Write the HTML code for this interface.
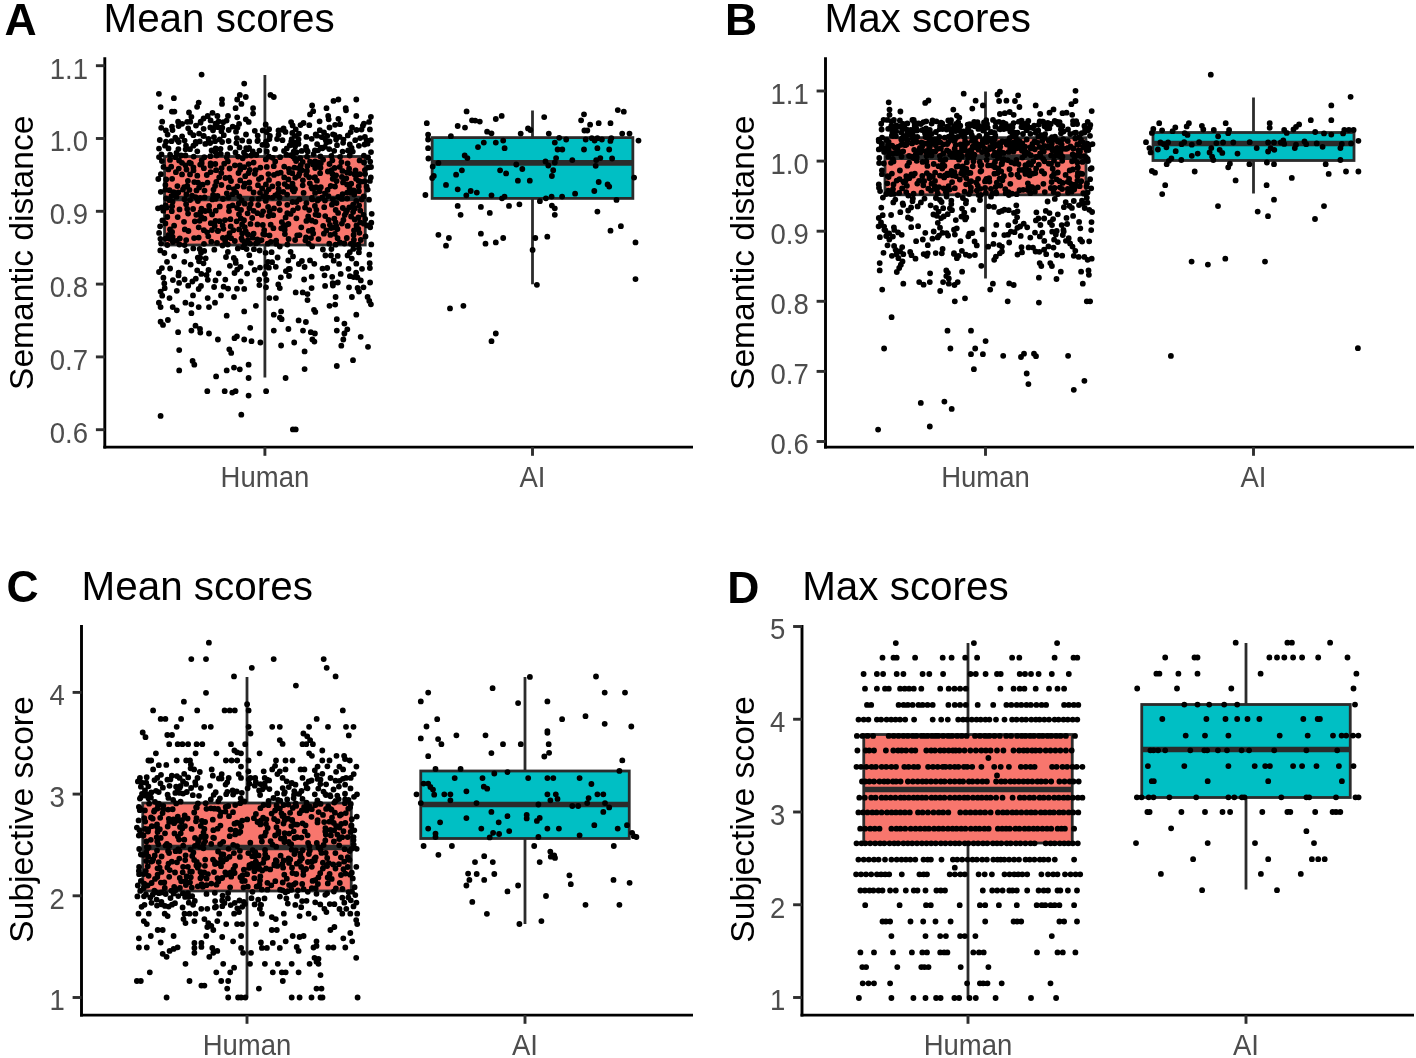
<!DOCTYPE html>
<html><head><meta charset="utf-8"><title>Figure</title>
<style>html,body{margin:0;padding:0;background:#fff;overflow:hidden}svg{display:block;font-family:"Liberation Sans", Arial, sans-serif}</style>
</head><body>
<svg width="1416" height="1058" viewBox="0 0 1416 1058">
<rect width="1416" height="1058" fill="#fff"/>
<line x1="264.90" x2="264.90" y1="75.00" y2="156.50" stroke="#2b2b2b" stroke-width="2.8"/>
<line x1="264.90" x2="264.90" y1="245.00" y2="377.50" stroke="#2b2b2b" stroke-width="2.8"/>
<rect x="164.55" y="156.50" width="200.70" height="88.50" fill="#F8766D" stroke="#2b2b2b" stroke-width="2.8"/>
<line x1="164.55" x2="365.25" y1="198.50" y2="198.50" stroke="#2b2b2b" stroke-width="5.6"/>
<line x1="532.50" x2="532.50" y1="110.50" y2="137.60" stroke="#2b2b2b" stroke-width="2.8"/>
<line x1="532.50" x2="532.50" y1="198.40" y2="284.30" stroke="#2b2b2b" stroke-width="2.8"/>
<rect x="432.15" y="137.60" width="200.70" height="60.80" fill="#00BFC4" stroke="#2b2b2b" stroke-width="2.8"/>
<line x1="432.15" x2="632.85" y1="162.90" y2="162.90" stroke="#2b2b2b" stroke-width="5.6"/>
<path d="M201.6 74.6h0M244.2 83.6h0M158.9 93.8h0M173.9 98.2h0M270.5 94.9h0M273.8 97.0h0M239.8 94.9h0M245.8 97.0h0M237.2 99.5h0M241.4 103.9h0M222.0 99.5h0M222.0 103.9h0M198.7 102.6h0M197.1 106.8h0M160.6 107.1h0M235.6 108.2h0M253.1 108.2h0M253.1 113.6h0M171.9 111.6h0M174.4 111.6h0M189.0 112.5h0M312.1 105.5h0M313.2 111.2h0M310.0 114.4h0M333.5 100.9h0M338.4 99.5h0M356.3 99.5h0M326.5 108.2h0M345.7 108.2h0M346.0 110.3h0M212.5 112.8h0M356.3 116.0h0M370.9 116.8h0M328.2 116.0h0M328.7 119.3h0M338.4 118.8h0M191.4 116.8h0M190.3 121.7h0M203.6 118.5h0M207.7 116.0h0M217.4 116.0h0M228.0 116.0h0M237.2 117.3h0M245.8 119.3h0M178.1 121.7h0M162.2 121.7h0M160.6 291.6h0M162.2 295.7h0M176.8 290.8h0M193.0 295.4h0M169.5 298.1h0M207.7 298.1h0M221.0 295.4h0M234.0 297.0h0M269.4 298.1h0M275.9 298.1h0M295.7 292.4h0M302.7 292.4h0M307.5 294.1h0M307.5 300.1h0M335.6 297.0h0M351.9 297.0h0M359.0 291.6h0M367.6 297.0h0M369.3 301.0h0M370.9 304.3h0M158.9 302.7h0M160.6 307.1h0M185.4 302.7h0M191.4 304.3h0M198.7 307.1h0M209.0 307.1h0M215.0 302.7h0M255.9 305.8h0M329.5 305.8h0M335.2 304.6h0M172.7 307.1h0M176.8 310.3h0M191.4 313.2h0M226.7 315.7h0M244.2 311.4h0M281.1 311.4h0M273.8 314.7h0M279.9 317.6h0M281.6 319.2h0M314.0 309.8h0M315.3 311.9h0M356.3 314.7h0M160.6 321.7h0M163.0 324.9h0M167.9 320.0h0M298.6 320.4h0M305.9 322.0h0M336.8 319.2h0M344.4 323.6h0M195.5 325.7h0M200.0 329.0h0M200.3 332.6h0M191.4 330.6h0M178.1 332.2h0M209.0 333.5h0M250.2 327.8h0M273.8 330.6h0M288.4 329.0h0M303.0 330.6h0M310.8 332.2h0M314.9 333.5h0M336.8 330.6h0M347.3 329.3h0M344.4 333.5h0M217.9 339.5h0M234.5 338.2h0M236.9 336.3h0M244.2 339.5h0M251.5 341.2h0M260.4 342.5h0M294.2 342.5h0M312.4 339.5h0M314.4 341.6h0M343.3 339.5h0M360.7 336.8h0M281.1 345.5h0M341.3 345.7h0M368.0 346.8h0M179.2 350.1h0M229.3 349.3h0M231.2 352.9h0M304.6 351.4h0M192.6 361.0h0M194.3 364.7h0M248.6 364.7h0M353.0 360.2h0M336.8 366.0h0M179.2 370.4h0M226.7 370.4h0M234.0 367.6h0M239.8 369.3h0M304.6 369.1h0M216.1 376.4h0M248.6 378.0h0M285.6 378.0h0M207.3 391.2h0M224.7 391.2h0M232.3 392.6h0M235.6 391.2h0M248.6 395.6h0M266.1 391.2h0M160.6 415.9h0M241.3 414.7h0M292.9 429.4h0M295.7 429.4h0M291.7 139.1h0M323.9 233.7h0M222.1 142.0h0M159.0 148.6h0M328.5 196.1h0M222.7 225.4h0M212.4 199.4h0M265.9 184.4h0M371.0 152.1h0M291.1 122.1h0M204.0 243.8h0M289.0 276.0h0M165.5 189.7h0M257.7 135.6h0M292.6 189.8h0M264.2 230.2h0M160.4 238.8h0M306.0 237.5h0M237.0 288.7h0M335.6 244.7h0M215.1 141.2h0M267.0 145.3h0M294.8 158.7h0M177.4 186.1h0M285.9 271.1h0M240.8 218.4h0M190.0 149.2h0M239.1 124.0h0M284.2 177.4h0M294.4 167.6h0M190.1 200.1h0M209.1 206.0h0M178.6 126.1h0M203.9 168.2h0M186.0 145.6h0M360.2 138.1h0M279.8 246.6h0M199.1 133.6h0M276.1 240.6h0M347.1 172.4h0M279.8 210.1h0M245.8 231.4h0M166.0 141.7h0M258.0 185.2h0M226.8 157.3h0M163.3 210.7h0M164.4 253.0h0M364.9 170.1h0M249.5 188.5h0M344.7 215.1h0M284.2 166.6h0M233.9 189.1h0M321.7 137.1h0M190.2 132.5h0M159.0 157.1h0M331.4 249.1h0M247.5 149.3h0M160.9 174.2h0M327.6 189.9h0M313.2 233.5h0M200.4 212.2h0M196.3 214.8h0M360.8 181.7h0M230.7 226.4h0M361.7 199.5h0M367.7 189.6h0M269.4 139.1h0M316.9 180.7h0M249.2 141.4h0M246.0 134.5h0M172.6 201.7h0M269.1 129.2h0M211.6 150.5h0M302.7 162.0h0M292.6 125.4h0M229.1 206.7h0M201.3 273.9h0M203.4 135.9h0M337.7 255.9h0M287.1 194.6h0M363.7 196.4h0M292.3 173.2h0M197.2 270.3h0M246.0 155.7h0M332.4 160.3h0M182.1 136.3h0M329.6 141.5h0M269.9 135.9h0M164.3 283.5h0M212.0 230.0h0M198.0 182.6h0M166.2 179.4h0M193.4 167.4h0M162.4 220.4h0M358.7 186.5h0M331.6 170.1h0M288.6 239.0h0M280.8 277.3h0M329.5 127.5h0M340.7 273.9h0M230.4 219.2h0M182.0 174.4h0M328.6 219.9h0M342.6 151.6h0M185.5 155.4h0M346.8 238.0h0M280.7 172.7h0M288.3 260.5h0M299.4 173.7h0M334.2 150.8h0M227.9 161.4h0M343.5 139.6h0M192.4 281.5h0M297.2 235.3h0M278.5 130.4h0M239.1 229.4h0M255.6 170.2h0M179.5 209.4h0M186.5 169.5h0M335.7 210.0h0M237.4 186.3h0M203.9 230.2h0M228.5 197.5h0M175.3 157.2h0M281.8 222.1h0M186.4 250.8h0M175.3 137.6h0M215.5 221.0h0M336.1 175.3h0M197.9 201.0h0M347.1 210.3h0M310.0 260.4h0M313.6 154.1h0M334.6 167.9h0M237.2 269.6h0M268.9 156.5h0M198.7 227.3h0M272.6 157.8h0M349.8 252.2h0M197.3 151.3h0M358.9 145.8h0M324.2 207.2h0M295.1 240.0h0M320.5 156.5h0M312.3 199.4h0M238.8 203.3h0M165.0 145.7h0M274.0 208.4h0M275.2 161.4h0M239.5 147.4h0M354.7 208.4h0M189.5 162.6h0M334.5 134.9h0M184.3 261.8h0M369.3 254.7h0M318.5 239.1h0M353.6 234.9h0M322.5 268.6h0M259.2 279.6h0M225.0 220.1h0M311.9 197.9h0M370.9 140.1h0M354.0 230.3h0M242.2 233.4h0M184.6 279.5h0M265.6 252.9h0M195.6 143.7h0M261.5 240.1h0M301.3 227.3h0M270.7 224.7h0M268.4 174.1h0M182.1 123.8h0M359.4 232.8h0M365.5 236.4h0M266.3 192.1h0M353.7 277.1h0M225.4 178.0h0M172.1 231.9h0M257.4 141.1h0M320.8 147.6h0M320.8 163.3h0M339.8 166.9h0M315.4 221.8h0M193.7 156.6h0M193.4 135.2h0M285.6 217.4h0M358.4 244.6h0M268.0 261.8h0M364.5 181.4h0M329.9 224.8h0M329.5 164.0h0M295.7 129.3h0M250.7 204.1h0M306.0 146.8h0M229.6 168.5h0M202.6 184.7h0M161.2 127.8h0M258.2 205.0h0M312.1 188.5h0M314.3 263.8h0M278.3 183.8h0M357.4 277.4h0M254.8 173.8h0M275.8 266.8h0M284.9 234.1h0M199.7 141.4h0M200.2 198.0h0M244.8 183.7h0M242.7 158.3h0M239.3 196.3h0M319.6 191.2h0M230.2 147.9h0M253.6 162.6h0M302.9 180.3h0M247.9 240.2h0M371.7 213.8h0M253.6 210.8h0M282.3 129.8h0M347.2 192.6h0M304.6 267.0h0M343.4 220.0h0M322.3 197.5h0M170.0 159.9h0M332.9 199.4h0M171.2 166.7h0M210.6 172.1h0M238.5 173.0h0M213.1 194.9h0M363.8 223.7h0M223.4 228.8h0M199.7 249.0h0M355.5 170.3h0M290.8 155.2h0M318.5 215.2h0M218.5 127.2h0M259.4 285.1h0M255.9 243.4h0M215.6 152.2h0M197.3 175.7h0M244.8 203.7h0M349.1 168.7h0M168.4 169.4h0M286.4 154.7h0M203.6 128.8h0M347.6 255.4h0M225.3 279.6h0M288.9 169.0h0M161.9 161.1h0M306.4 203.1h0M340.1 156.8h0M229.9 265.8h0M186.2 240.1h0M222.9 199.0h0M356.5 225.4h0M244.2 288.9h0M326.3 230.5h0M215.3 164.0h0M185.6 149.3h0M183.0 189.5h0M165.4 184.9h0M339.1 263.9h0M216.6 155.6h0M320.1 173.2h0M316.4 209.8h0M313.1 164.6h0M240.8 281.5h0M364.0 162.5h0M201.7 160.2h0M217.5 195.9h0M341.9 198.9h0M219.5 221.2h0M216.3 181.8h0M266.3 266.5h0M184.6 140.6h0M259.4 150.6h0M172.1 178.8h0M343.1 142.8h0M269.5 211.2h0M365.2 218.9h0M166.8 207.6h0M190.7 264.6h0M296.4 218.3h0M280.1 157.2h0M284.0 150.9h0M314.9 205.9h0M215.7 210.7h0M273.8 166.2h0M277.6 257.5h0M333.0 134.3h0M211.3 241.7h0M339.6 136.9h0M167.3 217.0h0M172.9 242.1h0M262.1 188.4h0M317.5 200.5h0M188.1 213.6h0M368.1 157.4h0M325.1 285.9h0M344.4 243.5h0M193.3 248.4h0M218.8 273.3h0M204.2 250.9h0M257.4 213.2h0M283.5 225.0h0M347.8 135.4h0M259.6 250.5h0M351.8 258.6h0M177.7 217.1h0M288.8 268.8h0M279.6 197.4h0M371.3 244.4h0M331.9 204.7h0M325.6 139.7h0M370.2 227.3h0M254.8 130.8h0M360.3 210.6h0M359.1 205.5h0M238.1 156.6h0M258.7 198.9h0M301.7 150.9h0M207.1 232.3h0M197.8 257.6h0M307.1 156.7h0M221.3 173.1h0M212.1 214.5h0M288.4 179.4h0M190.9 163.5h0M200.7 121.6h0M219.2 177.3h0M369.9 129.4h0M308.2 216.4h0M228.1 288.6h0M165.4 184.9h0M201.2 216.8h0M172.9 280.1h0M356.3 200.9h0M201.7 163.2h0M210.3 127.4h0M350.0 173.1h0M179.4 244.5h0M351.1 216.5h0M302.7 185.3h0M295.0 189.1h0M348.5 268.8h0M185.5 165.3h0M195.8 278.7h0M340.1 124.2h0M210.1 143.0h0M244.0 220.2h0M266.0 287.3h0M252.6 237.7h0M358.9 191.2h0M178.5 275.4h0M369.9 180.9h0M169.5 190.2h0M265.8 200.9h0M361.5 129.6h0M184.6 245.1h0M332.9 285.5h0M366.6 186.4h0M249.7 169.8h0M170.0 229.4h0M352.0 127.5h0M263.4 196.5h0M341.9 223.6h0M229.4 177.7h0M356.1 272.7h0M330.7 186.0h0M239.0 214.2h0M178.8 168.6h0M363.9 123.6h0M348.2 150.4h0M196.0 125.6h0M188.2 285.7h0M214.3 249.7h0M219.8 206.5h0M311.7 220.5h0M349.3 207.3h0M266.0 141.6h0M301.9 261.0h0M187.2 121.8h0M222.3 127.7h0M161.1 243.6h0M203.5 263.3h0M258.9 179.1h0M226.0 257.0h0M187.3 186.0h0M292.6 202.0h0M342.8 208.0h0M370.2 161.6h0M257.4 224.4h0M354.7 219.5h0M360.8 280.4h0M370.8 177.4h0M173.7 192.1h0M236.6 221.3h0M286.8 148.4h0M358.4 217.5h0M279.8 288.1h0M237.5 127.4h0M220.8 153.9h0M219.8 139.4h0M189.4 189.9h0M221.4 185.0h0M317.1 144.1h0M256.3 155.0h0M178.7 142.0h0M282.5 140.2h0M326.4 142.6h0M311.0 238.1h0M292.3 132.9h0M176.5 196.9h0M346.3 178.3h0M169.3 200.2h0M240.2 180.4h0M245.2 176.2h0M347.6 163.5h0M335.6 222.4h0M176.5 152.9h0M172.0 126.6h0M294.9 135.9h0M329.3 243.7h0M260.0 192.8h0M369.7 263.2h0M356.3 263.7h0M358.3 228.8h0M158.0 208.3h0M363.9 155.7h0M338.1 212.9h0M179.1 160.6h0M187.2 208.9h0M353.1 212.0h0M227.9 251.9h0M353.9 239.8h0M159.8 140.0h0M167.0 261.8h0M264.9 274.0h0M265.8 159.4h0M298.6 175.8h0M208.5 139.0h0M184.2 187.2h0M315.5 214.6h0M309.3 125.2h0M161.5 154.4h0M195.6 197.2h0M305.0 207.6h0M236.1 192.6h0M218.1 231.0h0M337.0 145.2h0M293.8 142.4h0M266.8 166.9h0M298.8 264.0h0M253.6 233.7h0M235.8 262.9h0M274.0 174.9h0M355.2 140.2h0M170.1 154.7h0M226.8 193.3h0M278.3 284.4h0M264.6 234.5h0M240.5 266.9h0M298.5 139.5h0M233.8 258.0h0M290.6 251.8h0M235.5 152.4h0M187.9 180.8h0M250.5 223.9h0M220.5 148.8h0M205.2 211.0h0M252.8 151.5h0M257.3 239.4h0M329.2 149.1h0M221.6 168.1h0M268.6 216.1h0M227.8 244.5h0M263.1 211.3h0M303.5 123.0h0M204.5 190.6h0M266.8 151.5h0M199.6 220.8h0M223.2 122.2h0M229.6 233.1h0M359.0 248.5h0M364.6 144.5h0M296.4 202.1h0M200.1 257.7h0M232.6 205.3h0M312.2 246.4h0M276.4 243.9h0M325.0 193.3h0M272.5 197.6h0M179.8 238.4h0M241.6 200.1h0M174.1 225.7h0M260.4 167.6h0M296.1 161.0h0M319.6 121.3h0M304.1 279.5h0M198.7 289.0h0M369.9 268.1h0M172.1 206.2h0M311.4 187.0h0M208.5 270.0h0M198.7 237.6h0M332.7 283.2h0M215.1 185.9h0M205.3 143.9h0M334.3 218.6h0M298.5 143.9h0M338.2 197.0h0M193.1 209.0h0M215.7 210.7h0M336.2 225.7h0M159.1 232.9h0M349.8 144.4h0M292.5 183.7h0M267.7 243.7h0M295.1 146.4h0M165.6 238.6h0M273.2 215.2h0M210.6 163.4h0M315.1 161.4h0M172.5 130.1h0M268.7 189.3h0M325.0 200.6h0M166.1 198.3h0M201.0 286.0h0M234.5 273.0h0M350.7 132.1h0M320.5 167.8h0M337.8 282.5h0M206.6 275.0h0M337.6 238.2h0M308.6 243.6h0M337.4 229.0h0M283.3 191.9h0M244.7 243.7h0M325.4 255.5h0M209.3 210.6h0M172.6 236.8h0M177.3 139.9h0M242.2 140.5h0M207.8 279.8h0M254.6 269.9h0M363.5 287.3h0M227.5 237.1h0M160.8 191.8h0M290.6 213.9h0M207.5 182.6h0M223.8 135.2h0M231.1 238.2h0M204.6 197.5h0M333.7 260.7h0M284.7 184.1h0M306.4 220.9h0M234.9 165.3h0M262.8 225.0h0M232.7 126.6h0M231.0 181.0h0M360.2 222.4h0M331.0 255.5h0M314.9 150.4h0M367.1 225.4h0M269.5 235.4h0M210.8 223.2h0M336.1 139.4h0M228.8 187.4h0M287.6 186.7h0M165.9 130.5h0M271.6 252.2h0M335.0 186.5h0M168.5 148.4h0M306.4 136.9h0M181.1 155.5h0M249.3 182.4h0M277.1 139.0h0M210.4 156.2h0M332.5 173.9h0M316.9 135.7h0M295.2 177.7h0M351.6 147.8h0M315.7 134.3h0M165.4 223.4h0M262.4 144.8h0M215.7 148.3h0M171.5 195.8h0M306.9 171.0h0M366.6 140.5h0M213.0 130.3h0M359.6 160.4h0M278.6 188.8h0M293.7 151.6h0M356.1 178.8h0M275.0 149.0h0M287.3 213.2h0M186.4 194.5h0M244.0 152.5h0M161.9 268.1h0M315.2 168.0h0M249.3 255.2h0M315.0 177.1h0M200.2 164.6h0M215.6 198.9h0M237.2 208.0h0M291.2 141.6h0M324.5 275.3h0M265.7 124.5h0M293.9 191.4h0M336.6 181.0h0M299.5 235.1h0M176.8 240.8h0M341.4 162.1h0M318.4 199.5h0M293.1 210.4h0M190.0 174.4h0M261.7 214.9h0M281.2 228.3h0M188.4 231.0h0M363.5 214.8h0M235.5 260.4h0M236.0 131.7h0M221.4 131.3h0M354.6 244.6h0M236.4 143.1h0M350.8 243.8h0M323.2 225.8h0M217.8 231.0h0M227.4 154.4h0M261.2 177.7h0M339.9 242.3h0M233.3 230.2h0M315.1 192.9h0M370.1 282.5h0M300.2 158.2h0M318.0 162.5h0M214.1 287.0h0M272.1 262.2h0M178.3 192.5h0M248.6 173.1h0M205.7 258.3h0M333.7 227.7h0M257.9 242.3h0M354.7 174.4h0M246.6 249.1h0M320.8 187.2h0M289.9 269.0h0M324.8 146.8h0M289.7 145.4h0M298.9 133.7h0M349.9 276.2h0M195.7 142.0h0M253.9 249.2h0M215.5 123.6h0M327.2 268.0h0M309.2 210.1h0M369.0 199.7h0M324.0 132.5h0M371.3 222.7h0M297.9 208.0h0M285.5 131.9h0M213.5 189.6h0M192.1 195.6h0M307.7 151.5h0M330.4 234.9h0M270.9 241.8h0M317.3 165.2h0M354.2 194.6h0M215.5 280.4h0M325.2 216.1h0M312.4 229.6h0M171.5 141.2h0M309.1 177.2h0M247.6 213.3h0M266.5 280.0h0M242.1 224.4h0M341.9 177.0h0M332.7 178.8h0M248.7 121.9h0M293.0 156.6h0M182.0 162.8h0M359.8 174.2h0M308.8 230.8h0M300.8 165.2h0M273.4 228.2h0M269.0 179.9h0M347.2 198.6h0M188.2 128.3h0M206.8 175.0h0M247.9 234.5h0M225.2 241.3h0M288.4 224.0h0M267.7 197.3h0M278.5 134.8h0M350.4 192.8h0M216.1 170.2h0M199.0 261.3h0M331.4 155.9h0M362.0 268.8h0M360.8 240.0h0M266.7 132.0h0M257.8 140.4h0M167.3 245.0h0M289.3 172.2h0M210.6 120.4h0M228.7 130.0h0M263.2 234.1h0M204.4 218.7h0M251.9 199.1h0M275.2 195.3h0M215.0 127.2h0M229.0 211.1h0M244.7 227.2h0M364.9 136.9h0M268.9 267.7h0M184.0 221.8h0M224.2 163.7h0M174.1 256.3h0M298.4 168.1h0M310.0 161.6h0M199.1 187.5h0M299.3 199.4h0M353.1 204.6h0M336.5 203.1h0M250.2 243.6h0M335.1 124.8h0M178.7 272.6h0M222.9 237.9h0M210.6 165.8h0M343.0 182.4h0M208.3 236.3h0M278.2 193.1h0M303.6 192.9h0M358.7 181.0h0M342.6 194.1h0M170.1 268.5h0M179.1 282.9h0M283.6 128.4h0M268.1 207.0h0M240.2 169.7h0M293.0 256.4h0M309.8 183.3h0M356.5 130.0h0M367.6 143.7h0M168.6 234.9h0M277.6 173.4h0M306.7 149.8h0M371.0 167.0h0M178.4 149.1h0M243.0 247.2h0M247.1 273.6h0M171.8 211.2h0M332.2 276.8h0M246.2 148.1h0M243.8 186.7h0M368.3 167.4h0M316.0 187.2h0M349.5 188.4h0M349.0 287.3h0M203.8 136.0h0M223.6 286.7h0M311.7 138.8h0M244.2 167.2h0M241.0 209.9h0M194.8 221.3h0M249.4 208.0h0M248.6 164.1h0M217.0 242.8h0M250.9 262.8h0M253.6 192.5h0M311.7 276.7h0M160.1 226.3h0M218.6 121.3h0M352.8 151.6h0M351.2 183.7h0M357.6 288.0h0M239.9 165.5h0M158.3 179.0h0M214.7 225.9h0M346.0 212.4h0M292.8 186.5h0M353.7 190.5h0M194.3 182.1h0M314.2 177.6h0M165.7 205.3h0M175.9 172.2h0M201.5 208.6h0M347.7 225.9h0M228.6 141.0h0M226.6 120.6h0M204.3 157.2h0M334.8 233.8h0M169.7 238.8h0M237.8 248.4h0M300.5 125.1h0M327.9 171.5h0M342.4 170.9h0M251.2 155.5h0M193.5 170.4h0M322.4 148.3h0M279.1 203.3h0M160.3 250.4h0M234.8 241.0h0M301.9 170.2h0M196.5 190.4h0M260.0 267.6h0M252.2 218.0h0M164.7 288.2h0M311.6 288.1h0M323.1 159.7h0M186.1 204.2h0M262.7 130.4h0M249.1 147.8h0M242.2 240.1h0M347.1 184.5h0M193.4 145.7h0M322.9 249.5h0M319.8 130.2h0M327.3 135.8h0M305.4 240.3h0M236.9 138.1h0M369.1 121.9h0M365.1 173.9h0M163.4 277.7h0M362.9 125.7h0M201.0 252.7h0M331.1 228.0h0M318.0 150.3h0M307.4 166.0h0M306.3 174.8h0M214.0 137.1h0M167.6 134.6h0M161.8 207.4h0M353.3 248.9h0M232.6 194.2h0M349.7 155.5h0M159.0 272.0h0M284.7 229.9h0M222.5 245.5h0M272.4 186.3h0M200.5 122.7h0M163.5 166.9h0M284.9 226.4h0M358.9 252.4h0M184.8 229.4h0M287.4 244.5h0M184.5 199.2h0M241.5 238.3h0M296.5 152.2h0M287.3 204.8h0M194.1 238.1h0M466.6 111.4h0M617.8 110.1h0M623.8 111.7h0M584.0 114.3h0M501.7 115.9h0M544.2 117.1h0M495.8 119.0h0M472.0 120.3h0M475.2 120.6h0M479.8 121.6h0M581.1 120.3h0M426.8 123.2h0M590.1 124.7h0M598.7 123.2h0M610.5 123.2h0M457.7 126.0h0M465.0 127.6h0M528.0 128.4h0M530.4 130.0h0M584.4 130.5h0M587.3 130.5h0M487.1 131.7h0M491.5 133.3h0M520.7 133.6h0M548.8 133.6h0M428.1 134.6h0M622.2 133.6h0M629.5 133.6h0M450.9 136.2h0M559.2 137.8h0M566.2 139.5h0M585.7 139.5h0M591.8 138.2h0M594.6 140.6h0M597.4 138.2h0M601.9 139.5h0M611.3 138.2h0M610.4 140.9h0M428.1 139.5h0M638.5 140.6h0M483.8 142.6h0M495.8 142.6h0M503.2 140.6h0M554.8 142.6h0M478.0 147.1h0M504.6 148.2h0M428.1 148.2h0M557.6 149.5h0M562.3 149.5h0M584.0 149.5h0M597.4 148.2h0M609.2 149.5h0M464.7 155.5h0M467.4 158.1h0M428.4 158.5h0M556.1 158.1h0M600.3 158.1h0M612.1 158.5h0M596.2 160.1h0M572.3 160.1h0M545.5 161.4h0M554.8 162.5h0M438.4 162.9h0M432.7 166.6h0M516.3 164.5h0M548.3 165.5h0M595.7 165.8h0M522.3 169.0h0M553.2 170.2h0M461.9 170.3h0M500.1 170.3h0M506.1 173.4h0M456.1 174.7h0M433.8 176.0h0M432.2 178.0h0M551.9 176.0h0M634.1 177.6h0M517.9 180.7h0M529.8 180.7h0M598.7 182.0h0M446.0 184.9h0M607.6 184.5h0M609.2 186.6h0M457.7 189.3h0M470.7 191.0h0M476.8 192.6h0M594.3 191.0h0M425.4 195.0h0M466.3 195.3h0M491.5 195.3h0M504.5 196.6h0M502.0 198.3h0M575.1 193.7h0M551.6 196.6h0M562.1 196.6h0M545.9 198.3h0M457.7 205.9h0M480.9 206.9h0M509.0 205.9h0M519.4 204.3h0M539.9 201.2h0M551.9 205.6h0M554.8 208.3h0M554.8 214.8h0M460.6 214.8h0M489.8 212.9h0M597.4 211.6h0M616.5 199.9h0M620.9 226.2h0M610.5 230.7h0M438.4 234.8h0M448.9 238.0h0M446.0 245.7h0M480.9 233.7h0M485.5 243.7h0M495.8 242.4h0M503.2 238.0h0M535.3 238.0h0M547.3 236.7h0M532.6 249.9h0M635.5 242.4h0M635.5 279.1h0M536.9 284.8h0M450.0 308.4h0M463.4 305.8h0M495.8 333.5h0M491.5 341.2h0" stroke="#000" stroke-width="5.84" stroke-linecap="round" fill="none"/>
<line x1="104.80" x2="104.80" y1="57.30" y2="448.55" stroke="#000" stroke-width="2.9"/>
<line x1="103.35" x2="693.00" y1="447.10" y2="447.10" stroke="#000" stroke-width="2.9"/>
<line x1="95.90" x2="104.80" y1="65.70" y2="65.70" stroke="#2e2e2e" stroke-width="2.9"/>
<text transform="translate(88.00,78.50) scale(1,1.05)" text-anchor="end" font-size="27.5" fill="#4D4D4D">1.1</text>
<line x1="95.90" x2="104.80" y1="138.50" y2="138.50" stroke="#2e2e2e" stroke-width="2.9"/>
<text transform="translate(88.00,151.30) scale(1,1.05)" text-anchor="end" font-size="27.5" fill="#4D4D4D">1.0</text>
<line x1="95.90" x2="104.80" y1="211.30" y2="211.30" stroke="#2e2e2e" stroke-width="2.9"/>
<text transform="translate(88.00,224.10) scale(1,1.05)" text-anchor="end" font-size="27.5" fill="#4D4D4D">0.9</text>
<line x1="95.90" x2="104.80" y1="284.10" y2="284.10" stroke="#2e2e2e" stroke-width="2.9"/>
<text transform="translate(88.00,296.90) scale(1,1.05)" text-anchor="end" font-size="27.5" fill="#4D4D4D">0.8</text>
<line x1="95.90" x2="104.80" y1="356.90" y2="356.90" stroke="#2e2e2e" stroke-width="2.9"/>
<text transform="translate(88.00,369.70) scale(1,1.05)" text-anchor="end" font-size="27.5" fill="#4D4D4D">0.7</text>
<line x1="95.90" x2="104.80" y1="429.70" y2="429.70" stroke="#2e2e2e" stroke-width="2.9"/>
<text transform="translate(88.00,442.50) scale(1,1.05)" text-anchor="end" font-size="27.5" fill="#4D4D4D">0.6</text>
<line x1="264.90" x2="264.90" y1="447.10" y2="455.80" stroke="#2e2e2e" stroke-width="2.9"/>
<text transform="translate(264.90,486.70) scale(1,1.04)" text-anchor="middle" font-size="27.5" fill="#4D4D4D">Human</text>
<line x1="532.50" x2="532.50" y1="447.10" y2="455.80" stroke="#2e2e2e" stroke-width="2.9"/>
<text transform="translate(532.50,486.70) scale(1,1.04)" text-anchor="middle" font-size="27.5" fill="#4D4D4D">AI</text>
<text transform="translate(33.10,252.80) rotate(-90)" text-anchor="middle" font-size="33.6" fill="#000">Semantic distance</text>
<text transform="translate(103.50,32.30)" text-anchor="start" font-size="40.4" fill="#000">Mean scores</text>
<text transform="translate(4.50,34.60)" text-anchor="start" font-size="44.5" fill="#000" font-weight="bold">A</text>
<line x1="985.50" x2="985.50" y1="91.50" y2="137.70" stroke="#2b2b2b" stroke-width="2.8"/>
<line x1="985.50" x2="985.50" y1="194.80" y2="278.50" stroke="#2b2b2b" stroke-width="2.8"/>
<rect x="885.00" y="137.70" width="201.00" height="57.10" fill="#F8766D" stroke="#2b2b2b" stroke-width="2.8"/>
<line x1="885.00" x2="1086.00" y1="157.10" y2="157.10" stroke="#2b2b2b" stroke-width="5.6"/>
<line x1="1253.50" x2="1253.50" y1="97.50" y2="132.50" stroke="#2b2b2b" stroke-width="2.8"/>
<line x1="1253.50" x2="1253.50" y1="160.50" y2="193.50" stroke="#2b2b2b" stroke-width="2.8"/>
<rect x="1153.00" y="132.50" width="201.00" height="28.00" fill="#00BFC4" stroke="#2b2b2b" stroke-width="2.8"/>
<line x1="1153.00" x2="1354.00" y1="143.50" y2="143.50" stroke="#2b2b2b" stroke-width="5.6"/>
<path d="M963.7 93.7h0M1075.5 90.8h0M997.5 94.5h0M999.9 91.7h0M1018.1 95.3h0M888.7 102.3h0M925.2 102.9h0M928.5 100.5h0M975.6 100.7h0M999.1 101.0h0M1006.4 100.7h0M1015.0 101.0h0M1071.4 104.2h0M1075.5 101.0h0M982.9 105.4h0M1035.7 105.4h0M1019.4 107.0h0M972.3 108.6h0M953.3 109.6h0M889.5 109.6h0M889.5 114.8h0M900.4 111.5h0M1091.7 111.1h0M1053.5 109.4h0M1049.5 112.7h0M1040.2 114.0h0M956.9 115.6h0M959.3 117.6h0M999.9 114.0h0M1004.8 113.2h0M1009.7 112.0h0M1013.7 114.8h0M1062.5 113.2h0M1066.5 112.7h0M1072.2 114.8h0M891.9 255.8h0M898.4 258.2h0M903.3 254.2h0M902.5 261.5h0M900.9 264.7h0M899.2 268.0h0M896.8 272.0h0M879.7 263.1h0M879.7 270.4h0M915.5 258.7h0M926.8 255.8h0M927.7 253.3h0M956.9 258.2h0M958.5 255.8h0M969.4 255.8h0M994.2 259.8h0M995.9 256.6h0M999.9 253.3h0M1001.9 251.4h0M1046.2 254.2h0M1073.8 255.8h0M1078.7 256.9h0M1084.4 256.9h0M1087.6 259.8h0M1091.7 258.7h0M1039.7 263.1h0M1041.3 266.0h0M1050.3 263.1h0M1051.9 266.0h0M981.3 265.8h0M930.1 273.3h0M946.3 270.4h0M948.0 272.8h0M946.3 276.1h0M948.8 278.5h0M962.1 271.7h0M1060.8 271.7h0M1081.1 271.7h0M1088.5 270.4h0M1088.9 274.8h0M1038.9 277.7h0M1056.5 279.0h0M903.3 283.7h0M919.2 282.1h0M923.6 284.7h0M929.8 282.1h0M943.1 282.1h0M948.8 283.7h0M954.5 285.0h0M957.7 282.1h0M992.9 283.7h0M990.2 289.6h0M1009.2 283.4h0M1013.7 285.0h0M1082.8 283.7h0M882.2 289.6h0M940.2 291.0h0M954.8 301.3h0M965.0 298.3h0M1007.7 301.3h0M1038.9 302.6h0M1086.8 301.3h0M1090.1 301.3h0M891.6 317.2h0M947.5 330.7h0M971.0 330.7h0M985.6 341.1h0M884.1 348.5h0M950.4 348.5h0M975.2 348.5h0M971.0 354.2h0M982.9 354.2h0M1003.2 355.8h0M1021.0 357.0h0M1024.0 353.7h0M1034.0 353.7h0M1036.0 356.2h0M1068.1 355.8h0M973.9 369.2h0M1026.7 373.5h0M1028.4 384.1h0M1084.4 380.8h0M1073.8 389.8h0M920.8 402.9h0M944.4 401.6h0M951.7 408.9h0M929.8 426.5h0M878.1 429.6h0M977.5 122.2h0M1011.3 147.0h0M948.3 120.5h0M917.5 151.3h0M1023.0 134.0h0M1052.7 168.7h0M936.4 121.3h0M996.8 182.6h0M907.9 134.5h0M1060.2 150.6h0M960.6 144.5h0M1088.4 150.0h0M1047.1 128.6h0M1040.6 156.3h0M916.5 142.0h0M1056.6 122.5h0M910.9 218.8h0M1014.7 132.7h0M894.7 147.6h0M895.9 136.0h0M942.8 164.4h0M906.3 176.1h0M906.9 185.8h0M1002.4 180.3h0M1021.4 127.1h0M1001.9 246.6h0M1084.1 193.7h0M952.5 153.5h0M1011.0 174.6h0M972.7 146.7h0M976.3 182.4h0M966.4 168.9h0M940.9 148.5h0M988.1 165.4h0M1030.4 133.8h0M1017.4 174.7h0M1079.1 221.9h0M1051.0 164.1h0M963.4 131.5h0M1018.8 121.7h0M1066.5 217.9h0M986.2 137.1h0M896.0 152.5h0M1091.2 188.3h0M903.3 181.6h0M952.1 182.1h0M970.9 132.2h0M989.2 149.3h0M901.7 234.8h0M1082.2 173.9h0M1020.1 226.5h0M893.5 161.4h0M905.6 180.7h0M945.4 159.5h0M945.0 175.5h0M982.5 142.9h0M887.3 119.9h0M970.7 125.5h0M879.9 237.2h0M899.6 126.3h0M966.6 131.2h0M1027.2 227.3h0M955.8 176.0h0M975.4 138.1h0M896.2 125.3h0M980.5 171.5h0M1027.9 183.3h0M1031.1 164.8h0M980.8 194.9h0M921.9 130.1h0M1001.9 164.0h0M1044.5 126.3h0M912.4 119.9h0M881.3 147.6h0M934.8 186.5h0M984.4 148.3h0M972.0 140.8h0M1082.0 200.7h0M929.2 147.9h0M966.3 178.1h0M986.5 142.0h0M1073.1 124.2h0M1054.0 174.0h0M1067.8 141.1h0M915.7 123.2h0M931.3 143.0h0M1027.2 126.6h0M1021.2 121.0h0M886.3 194.0h0M1001.6 163.7h0M921.6 150.0h0M964.6 137.4h0M978.4 128.9h0M924.1 181.2h0M954.4 172.1h0M916.7 157.2h0M902.3 129.6h0M996.3 224.9h0M948.6 186.1h0M911.8 156.7h0M917.6 206.4h0M1028.9 163.0h0M1022.4 157.6h0M986.4 178.8h0M969.7 156.6h0M951.7 132.7h0M931.1 190.7h0M952.1 135.8h0M1017.4 132.7h0M962.0 208.6h0M1008.5 192.1h0M957.2 152.3h0M1084.7 208.0h0M888.2 145.7h0M884.1 151.9h0M903.8 144.5h0M955.7 144.8h0M933.7 231.5h0M917.3 183.6h0M913.6 193.7h0M995.0 161.9h0M1055.2 155.5h0M994.0 141.1h0M1061.3 149.6h0M976.8 245.4h0M1008.0 234.7h0M994.0 206.9h0M1061.7 225.1h0M1019.7 141.5h0M937.3 149.0h0M881.7 143.6h0M893.7 193.9h0M978.5 149.7h0M1051.6 146.9h0M1068.7 238.2h0M891.9 135.5h0M1080.3 239.4h0M883.5 252.8h0M1002.0 210.9h0M998.7 144.2h0M881.6 129.5h0M932.5 151.7h0M879.1 163.1h0M935.1 172.6h0M913.2 175.6h0M1028.3 121.0h0M900.0 251.2h0M1067.8 188.9h0M901.1 144.8h0M1029.8 127.6h0M922.2 146.2h0M1080.3 228.3h0M961.2 173.3h0M937.6 139.9h0M1071.4 184.1h0M1075.3 138.5h0M1016.7 194.2h0M937.8 222.8h0M1070.3 134.0h0M896.9 153.2h0M1042.4 150.4h0M1081.0 139.9h0M899.9 170.5h0M1001.9 126.3h0M957.8 195.1h0M939.0 187.1h0M911.4 174.4h0M987.7 127.7h0M1082.9 203.8h0M1000.4 143.5h0M992.3 193.4h0M928.5 152.6h0M1003.9 176.2h0M1077.6 175.9h0M948.2 142.3h0M982.9 140.1h0M911.1 207.5h0M1036.1 168.4h0M1062.1 189.0h0M929.8 130.0h0M955.8 220.1h0M925.5 137.0h0M935.2 151.5h0M1057.2 147.8h0M1039.7 121.5h0M942.5 129.0h0M996.4 193.3h0M906.6 176.5h0M1043.8 151.4h0M1066.6 148.8h0M973.3 209.9h0M979.0 125.9h0M1003.6 159.1h0M1008.7 151.9h0M1012.0 193.6h0M910.2 251.9h0M1056.6 255.0h0M1071.6 191.7h0M902.7 203.5h0M985.0 181.4h0M975.9 142.6h0M947.2 144.1h0M995.4 126.7h0M1078.6 150.5h0M974.4 154.7h0M1054.0 160.6h0M888.6 141.8h0M926.0 128.5h0M923.8 180.8h0M888.7 149.5h0M1035.9 220.4h0M969.3 233.7h0M881.9 170.3h0M939.7 129.1h0M967.7 155.3h0M932.4 238.7h0M1072.5 246.6h0M907.7 140.1h0M912.8 134.8h0M942.2 123.4h0M915.9 153.5h0M993.7 155.3h0M1044.3 240.9h0M995.3 135.5h0M889.2 152.2h0M972.8 166.3h0M993.6 146.9h0M1092.5 144.1h0M936.0 207.8h0M893.5 184.4h0M1009.5 169.2h0M977.8 185.6h0M1075.3 250.8h0M947.0 150.4h0M917.0 130.6h0M981.3 170.8h0M1059.8 142.3h0M1033.0 128.0h0M1052.0 176.3h0M1000.3 185.6h0M921.5 192.7h0M902.1 188.3h0M926.5 143.6h0M921.4 142.5h0M925.8 151.5h0M943.3 153.5h0M972.3 233.1h0M1025.4 165.2h0M1058.0 194.1h0M982.0 152.1h0M1048.4 246.4h0M956.0 157.0h0M1004.5 209.7h0M926.4 161.5h0M942.2 168.6h0M956.1 123.8h0M881.2 123.7h0M885.4 230.5h0M1058.6 124.6h0M961.9 250.8h0M1012.5 127.3h0M901.3 132.6h0M878.7 139.6h0M984.1 126.6h0M1065.9 240.8h0M985.1 187.9h0M965.9 254.7h0M980.0 127.6h0M1080.9 156.1h0M923.5 122.1h0M979.8 162.0h0M959.0 128.6h0M906.2 192.1h0M939.0 235.6h0M1059.3 156.1h0M1007.3 128.3h0M985.6 180.3h0M955.0 139.4h0M913.7 120.0h0M936.8 215.8h0M962.3 170.7h0M1024.5 127.5h0M931.4 134.0h0M944.4 166.0h0M1069.7 170.5h0M1028.6 247.4h0M1027.8 190.0h0M975.1 143.5h0M991.3 132.0h0M913.3 158.0h0M909.0 156.0h0M1029.8 175.4h0M1024.7 155.2h0M906.9 129.6h0M938.6 166.2h0M1068.0 192.5h0M1074.2 189.6h0M1053.1 219.1h0M979.0 144.8h0M929.4 139.4h0M1091.2 230.1h0M946.7 129.5h0M1060.9 129.3h0M926.9 151.0h0M970.7 150.2h0M933.7 164.0h0M956.8 228.3h0M893.0 136.1h0M1089.7 127.4h0M1090.0 135.8h0M878.8 218.0h0M946.6 196.6h0M891.3 126.0h0M1061.0 133.3h0M947.7 214.2h0M907.4 165.7h0M1056.7 231.0h0M970.4 172.9h0M1069.6 205.9h0M1018.9 177.1h0M1059.6 181.2h0M903.9 135.9h0M1043.1 121.7h0M960.5 241.2h0M1051.6 182.0h0M1044.1 249.7h0M885.8 148.7h0M1025.0 151.1h0M992.4 148.7h0M891.9 173.6h0M995.7 187.0h0M916.7 160.8h0M966.1 184.3h0M1077.1 124.0h0M888.3 156.7h0M929.3 175.4h0M884.4 229.8h0M905.2 145.2h0M1026.6 123.3h0M903.2 151.3h0M978.1 178.8h0M940.0 227.7h0M994.9 167.2h0M895.7 128.9h0M938.6 211.6h0M943.8 176.9h0M935.0 181.0h0M1062.2 160.8h0M1054.1 239.7h0M918.7 123.3h0M889.1 233.3h0M989.4 181.5h0M919.9 148.0h0M1008.9 195.0h0M893.0 189.1h0M999.4 245.1h0M1059.6 122.1h0M948.7 136.6h0M931.7 123.6h0M923.7 254.1h0M892.9 159.1h0M1088.5 146.4h0M1000.3 146.8h0M968.0 128.3h0M909.3 178.2h0M954.0 229.7h0M1076.6 185.8h0M994.1 234.4h0M996.7 145.4h0M1087.5 202.6h0M934.7 139.3h0M950.5 129.0h0M929.4 178.3h0M1026.7 130.2h0M1067.8 181.8h0M992.1 165.5h0M1023.2 189.8h0M1058.2 140.9h0M976.1 147.4h0M1077.8 167.4h0M1081.2 181.2h0M881.0 222.4h0M1026.7 169.4h0M1057.0 153.1h0M1025.3 173.2h0M1004.2 141.9h0M959.1 156.0h0M892.7 131.6h0M974.2 122.0h0M1041.8 171.2h0M965.1 141.2h0M992.2 138.9h0M1055.3 150.8h0M1037.8 187.3h0M952.2 156.4h0M1085.1 128.7h0M955.9 131.1h0M1049.3 128.2h0M1076.2 121.2h0M930.0 146.3h0M1007.4 141.2h0M1038.2 130.5h0M941.2 218.1h0M1053.5 247.6h0M928.3 188.6h0M1044.5 161.3h0M1045.1 134.1h0M943.7 216.4h0M1037.2 142.6h0M937.7 237.4h0M931.5 183.7h0M922.8 239.5h0M914.8 173.6h0M922.6 161.9h0M965.6 150.6h0M896.7 180.6h0M958.2 166.2h0M908.3 195.6h0M971.4 150.8h0M969.9 182.3h0M1052.0 225.1h0M892.8 153.4h0M962.0 148.1h0M950.3 123.0h0M925.0 133.2h0M935.7 145.2h0M970.0 153.6h0M990.2 146.8h0M892.9 236.6h0M1086.5 186.4h0M954.8 188.2h0M947.2 173.6h0M884.1 226.6h0M888.6 177.0h0M1089.3 209.8h0M996.0 192.5h0M1057.8 214.3h0M907.3 133.4h0M920.9 124.0h0M1056.6 179.3h0M999.6 178.7h0M915.8 140.1h0M942.5 232.8h0M1017.2 140.0h0M1038.3 136.6h0M962.9 198.0h0M1063.2 139.1h0M1005.3 189.2h0M1038.8 164.6h0M910.9 129.8h0M1016.5 148.3h0M932.8 176.4h0M1034.5 141.4h0M952.7 175.4h0M1042.0 121.7h0M1014.8 163.6h0M1074.5 159.3h0M1052.5 150.2h0M958.2 122.2h0M1073.0 121.1h0M1077.4 162.5h0M1055.0 136.6h0M898.1 232.4h0M901.3 139.4h0M954.4 126.6h0M895.3 199.6h0M1057.6 164.5h0M925.5 136.1h0M1087.0 183.5h0M1062.4 156.7h0M935.7 253.1h0M1033.4 148.5h0M999.1 155.6h0M1077.4 180.6h0M1073.8 201.0h0M1027.2 124.1h0M1043.4 183.8h0M891.0 162.8h0M878.8 184.5h0M951.5 170.8h0M942.6 249.0h0M923.3 185.3h0M1022.5 169.9h0M1033.2 161.3h0M951.3 204.0h0M945.5 191.0h0M1050.8 188.0h0M1035.0 232.6h0M926.9 173.1h0M1022.0 124.3h0M951.3 200.6h0M881.9 174.2h0M914.5 123.1h0M1044.2 218.5h0M1039.8 236.4h0M912.5 201.2h0M1015.6 136.7h0M1062.4 126.2h0M940.0 175.6h0M920.4 152.4h0M1003.4 125.9h0M968.3 236.3h0M879.0 187.7h0M1051.8 143.4h0M980.5 165.6h0M893.9 120.0h0M899.6 179.2h0M1087.7 121.8h0M926.6 156.0h0M1030.4 147.1h0M994.7 139.2h0M887.5 245.3h0M1011.3 162.3h0M1057.5 121.9h0M1073.3 148.5h0M943.7 144.3h0M948.9 151.6h0M999.8 150.4h0M1036.4 212.3h0M1039.4 146.9h0M1025.9 167.0h0M1076.0 132.7h0M1087.6 158.9h0M1068.0 129.4h0M900.3 212.2h0M999.3 129.0h0M1050.0 222.5h0M881.7 146.7h0M986.2 120.2h0M1088.2 130.3h0M892.2 145.6h0M1062.7 182.9h0M1029.4 186.3h0M922.3 175.9h0M941.1 122.6h0M906.5 144.4h0M1065.1 148.8h0M1060.6 153.6h0M982.4 229.4h0M1072.7 154.4h0M1063.7 231.4h0M914.0 130.2h0M939.3 136.9h0M998.4 168.5h0M1047.8 124.5h0M1015.8 144.9h0M916.1 241.2h0M1054.8 198.9h0M950.2 154.4h0M969.2 173.0h0M1007.6 160.1h0M887.7 176.1h0M924.1 143.5h0M882.9 197.6h0M941.6 202.0h0M979.2 135.8h0M1047.8 146.2h0M892.4 132.2h0M896.1 131.1h0M929.6 176.3h0M940.2 142.4h0M896.6 254.2h0M1077.9 173.0h0M1048.7 163.5h0M980.0 200.0h0M895.6 249.8h0M1084.5 132.5h0M1027.9 153.4h0M888.2 190.6h0M1010.8 130.7h0M1054.2 139.7h0M1028.9 170.4h0M1014.6 232.2h0M1049.5 213.1h0M883.6 119.8h0M914.2 149.8h0M891.5 121.2h0M941.8 253.4h0M886.2 236.1h0M1040.1 153.4h0M1070.5 146.3h0M1005.7 193.2h0M926.2 121.3h0M1082.5 161.9h0M1048.7 140.4h0M937.8 193.5h0M954.9 234.6h0M946.7 233.1h0M1090.1 179.2h0M1060.0 187.3h0M1084.1 156.1h0M893.9 227.3h0M1030.7 148.6h0M1077.3 144.5h0M1010.3 131.6h0M1011.2 142.9h0M1040.4 225.0h0M914.7 125.8h0M1017.1 217.3h0M928.1 133.9h0M1052.2 231.7h0M990.1 140.9h0M948.1 235.5h0M967.7 124.6h0M1034.9 191.7h0M935.9 198.0h0M965.1 172.2h0M984.0 122.5h0M1014.3 142.2h0M1044.4 137.9h0M1065.6 174.9h0M1072.1 161.3h0M964.3 212.6h0M1087.4 143.7h0M1084.9 146.4h0M988.5 138.4h0M987.0 123.9h0M986.8 134.6h0M990.8 132.3h0M878.6 226.3h0M1092.1 212.0h0M957.4 136.8h0M879.3 157.9h0M1035.8 132.7h0M1002.4 161.8h0M949.6 189.6h0M1086.5 149.9h0M1002.2 141.5h0M964.6 191.6h0M994.6 133.0h0M908.2 210.5h0M1052.0 137.2h0M1022.0 252.4h0M970.9 187.7h0M988.8 206.3h0M907.3 123.4h0M1067.1 224.0h0M1055.8 234.4h0M951.0 120.2h0M960.3 131.1h0M946.1 192.6h0M1013.5 151.4h0M1071.9 207.9h0M1050.8 123.9h0M1038.4 218.4h0M911.2 227.2h0M949.9 137.7h0M974.6 241.5h0M1023.7 223.7h0M1048.3 147.7h0M1000.1 129.3h0M1089.2 241.3h0M1047.8 122.9h0M1017.5 254.6h0M1020.7 235.9h0M1021.5 247.2h0M1086.1 157.5h0M1079.0 205.1h0M1005.7 124.0h0M1080.0 151.6h0M946.4 193.2h0M1039.3 251.8h0M1001.2 171.3h0M1003.8 129.0h0M1016.8 133.3h0M894.1 246.0h0M947.9 175.0h0M899.2 192.9h0M881.3 207.6h0M1020.1 148.2h0M978.6 195.1h0M1054.5 187.9h0M940.0 199.9h0M995.7 122.1h0M1047.6 201.5h0M904.0 182.6h0M940.4 159.6h0M939.9 156.0h0M944.2 177.4h0M966.3 217.4h0M927.4 165.9h0M1003.5 152.9h0M966.5 132.4h0M994.4 173.7h0M923.8 129.6h0M903.2 204.9h0M947.0 126.7h0M1016.3 205.3h0M878.8 149.4h0M919.0 181.0h0M899.9 120.4h0M976.2 147.4h0M1072.7 187.1h0M986.0 151.0h0M954.0 253.2h0M1072.8 169.5h0M981.3 165.0h0M940.1 126.0h0M1079.7 186.2h0M883.8 163.5h0M966.8 162.3h0M1080.1 173.3h0M902.0 138.4h0M890.9 194.1h0M1087.9 161.0h0M1019.5 169.9h0M993.0 119.9h0M986.7 159.9h0M956.6 166.6h0M929.7 136.4h0M983.1 130.5h0M1022.0 150.8h0M1051.1 155.5h0M1042.3 232.7h0M976.8 190.6h0M891.1 215.0h0M912.6 138.0h0M1083.2 147.3h0M1036.3 157.0h0M1063.9 207.2h0M1078.3 144.5h0M911.5 255.2h0M902.2 247.1h0M965.9 203.3h0M993.4 243.9h0M952.5 139.9h0M1044.8 192.1h0M971.1 181.2h0M1069.4 182.5h0M990.9 188.8h0M1065.7 202.1h0M1033.0 247.6h0M1006.8 144.5h0M1009.8 137.8h0M985.9 192.8h0M1074.3 185.0h0M1017.4 227.8h0M1042.2 140.9h0M894.3 229.9h0M953.9 253.9h0M1058.0 149.6h0M1025.0 146.7h0M1034.8 149.3h0M1014.0 212.9h0M1035.6 251.5h0M928.2 152.6h0M908.0 217.4h0M1032.5 143.9h0M1091.5 222.1h0M1043.1 158.9h0M931.5 155.4h0M882.7 215.2h0M995.0 152.7h0M1009.2 242.5h0M1069.1 178.8h0M980.3 188.8h0M918.1 226.2h0M920.9 202.4h0M1013.6 123.1h0M897.8 147.0h0M1060.4 141.8h0M969.1 194.1h0M954.7 148.7h0M927.8 245.2h0M878.8 141.3h0M961.1 134.8h0M961.8 156.4h0M961.4 216.6h0M965.2 219.4h0M1022.4 143.5h0M880.1 191.1h0M963.9 174.9h0M1010.3 183.8h0M974.8 126.3h0M1088.6 144.8h0M986.7 125.6h0M889.3 239.5h0M893.3 202.4h0M997.6 173.0h0M967.3 143.1h0M972.5 138.2h0M987.2 154.5h0M1008.7 210.2h0M924.5 198.6h0M993.0 143.8h0M1030.0 192.3h0M949.9 208.3h0M1018.5 164.2h0M936.8 190.1h0M969.8 124.1h0M973.5 161.2h0M901.5 156.6h0M1038.8 124.6h0M1076.9 155.2h0M1041.3 135.2h0M1067.9 147.9h0M882.1 137.6h0M1019.5 190.2h0M933.4 214.5h0M917.3 136.8h0M954.6 127.1h0M912.1 143.4h0M1044.2 173.6h0M961.7 150.8h0M943.2 208.2h0M1073.1 215.9h0M1062.8 235.0h0M1070.1 243.5h0M982.9 140.6h0M1063.5 131.6h0M1083.3 193.1h0M1056.9 154.3h0M1035.4 173.0h0M962.9 166.5h0M1015.3 221.6h0M968.2 158.1h0M1084.4 126.0h0M900.1 151.8h0M952.0 210.2h0M1018.0 143.5h0M1045.8 210.9h0M888.2 128.8h0M1008.3 225.2h0M1030.3 237.6h0M909.1 162.6h0M1090.5 169.1h0M963.1 134.5h0M904.0 138.6h0M911.9 130.4h0M1081.7 133.2h0M1004.3 235.1h0M960.3 125.7h0M991.0 196.7h0M1016.4 159.8h0M1074.2 156.0h0M912.9 198.6h0M1087.6 192.6h0M1028.4 187.3h0M959.8 179.5h0M954.1 141.1h0M1025.5 173.9h0M904.0 127.2h0M887.3 183.3h0M1063.4 230.0h0M935.9 132.0h0M903.1 123.8h0M932.5 120.3h0M964.9 145.9h0M1003.2 122.6h0M930.6 205.3h0M1012.3 136.0h0M1057.9 141.7h0M1057.8 242.1h0M1062.2 255.7h0M1044.3 145.9h0M977.5 123.8h0M916.1 127.8h0M1053.6 192.1h0M1017.5 211.3h0M1074.7 133.0h0M989.1 178.2h0M976.9 124.5h0M1091.6 168.2h0M1057.8 172.5h0M1010.3 126.2h0M1010.2 148.6h0M1061.6 144.4h0M1052.7 175.9h0M966.1 200.8h0M943.7 188.3h0M1054.7 120.9h0M1079.4 137.1h0M999.0 121.8h0M988.2 246.7h0M999.7 142.9h0M970.9 191.0h0M944.7 137.6h0M1032.2 187.2h0M1082.1 241.6h0M999.1 212.0h0M886.6 140.0h0M1090.3 124.9h0M959.0 159.7h0M1082.4 141.8h0M974.9 255.0h0M982.6 146.1h0M925.3 232.8h0M1021.6 120.6h0M935.3 142.3h0M971.8 135.1h0M1086.8 197.7h0M1030.3 193.2h0M973.3 157.5h0M998.0 158.1h0M1034.2 125.6h0M961.4 151.4h0M1032.7 173.7h0M1026.7 139.6h0M1010.9 231.6h0M1030.8 155.2h0M1210.8 74.7h0M1350.6 96.8h0M1331.3 105.4h0M1310.8 120.2h0M1331.3 120.2h0M1159.2 123.2h0M1188.9 123.2h0M1225.7 123.2h0M1269.7 123.2h0M1269.7 127.8h0M1299.1 124.4h0M1296.0 126.9h0M1293.5 129.5h0M1175.3 127.5h0M1201.9 125.8h0M1203.3 129.5h0M1153.3 129.0h0M1162.1 130.3h0M1172.6 131.2h0M1186.7 126.4h0M1213.8 130.0h0M1229.1 130.0h0M1228.2 133.2h0M1284.2 130.0h0M1286.7 132.9h0M1315.2 132.0h0M1324.0 133.4h0M1331.3 134.6h0M1344.3 130.0h0M1348.9 130.0h0M1353.6 130.0h0M1343.1 133.4h0M1151.9 132.9h0M1184.7 133.2h0M1187.5 134.9h0M1218.1 136.3h0M1146.0 142.2h0M1160.4 142.5h0M1163.8 144.2h0M1168.1 142.5h0M1166.4 147.3h0M1157.9 149.5h0M1149.4 148.1h0M1150.6 152.4h0M1175.7 151.2h0M1184.2 142.2h0M1181.6 144.2h0M1191.8 144.7h0M1199.1 142.2h0M1216.4 143.1h0M1223.1 142.5h0M1233.3 142.5h0M1249.7 142.2h0M1211.3 148.1h0M1209.6 152.4h0M1219.7 149.8h0M1222.3 152.9h0M1212.1 156.6h0M1213.3 160.0h0M1237.5 153.6h0M1197.7 153.6h0M1191.8 155.8h0M1256.7 148.1h0M1268.1 142.5h0M1274.0 142.5h0M1280.8 142.5h0M1283.3 140.5h0M1284.2 143.9h0M1270.6 148.1h0M1268.1 151.5h0M1274.3 149.8h0M1294.8 148.1h0M1296.0 144.7h0M1304.5 141.4h0M1306.2 144.2h0M1316.7 143.4h0M1322.6 146.8h0M1341.8 143.9h0M1340.4 148.1h0M1351.1 143.4h0M1358.4 140.8h0M1171.4 158.3h0M1168.9 160.8h0M1166.7 164.2h0M1181.3 160.0h0M1340.4 160.0h0M1229.9 163.7h0M1228.2 167.3h0M1249.4 164.2h0M1266.9 162.5h0M1274.0 164.2h0M1325.7 164.2h0M1151.9 171.0h0M1155.0 172.7h0M1194.7 171.5h0M1328.7 173.9h0M1346.0 171.5h0M1358.4 171.5h0M1291.8 177.9h0M1235.6 180.4h0M1165.2 185.2h0M1266.6 185.2h0M1162.2 194.1h0M1274.0 199.7h0M1218.0 206.1h0M1324.0 206.1h0M1257.7 211.6h0M1268.0 216.2h0M1315.0 219.0h0M1191.6 261.6h0M1207.9 264.6h0M1225.3 258.7h0M1265.0 261.6h0M1357.9 348.2h0M1170.9 355.9h0" stroke="#000" stroke-width="5.84" stroke-linecap="round" fill="none"/>
<line x1="825.50" x2="825.50" y1="57.30" y2="448.55" stroke="#000" stroke-width="2.9"/>
<line x1="824.05" x2="1414.00" y1="447.10" y2="447.10" stroke="#000" stroke-width="2.9"/>
<line x1="816.60" x2="825.50" y1="91.00" y2="91.00" stroke="#2e2e2e" stroke-width="2.9"/>
<text transform="translate(808.70,103.80) scale(1,1.05)" text-anchor="end" font-size="27.5" fill="#4D4D4D">1.1</text>
<line x1="816.60" x2="825.50" y1="161.10" y2="161.10" stroke="#2e2e2e" stroke-width="2.9"/>
<text transform="translate(808.70,173.90) scale(1,1.05)" text-anchor="end" font-size="27.5" fill="#4D4D4D">1.0</text>
<line x1="816.60" x2="825.50" y1="231.20" y2="231.20" stroke="#2e2e2e" stroke-width="2.9"/>
<text transform="translate(808.70,244.00) scale(1,1.05)" text-anchor="end" font-size="27.5" fill="#4D4D4D">0.9</text>
<line x1="816.60" x2="825.50" y1="301.30" y2="301.30" stroke="#2e2e2e" stroke-width="2.9"/>
<text transform="translate(808.70,314.10) scale(1,1.05)" text-anchor="end" font-size="27.5" fill="#4D4D4D">0.8</text>
<line x1="816.60" x2="825.50" y1="371.40" y2="371.40" stroke="#2e2e2e" stroke-width="2.9"/>
<text transform="translate(808.70,384.20) scale(1,1.05)" text-anchor="end" font-size="27.5" fill="#4D4D4D">0.7</text>
<line x1="816.60" x2="825.50" y1="441.50" y2="441.50" stroke="#2e2e2e" stroke-width="2.9"/>
<text transform="translate(808.70,454.30) scale(1,1.05)" text-anchor="end" font-size="27.5" fill="#4D4D4D">0.6</text>
<line x1="985.50" x2="985.50" y1="447.10" y2="455.80" stroke="#2e2e2e" stroke-width="2.9"/>
<text transform="translate(985.50,486.70) scale(1,1.04)" text-anchor="middle" font-size="27.5" fill="#4D4D4D">Human</text>
<line x1="1253.50" x2="1253.50" y1="447.10" y2="455.80" stroke="#2e2e2e" stroke-width="2.9"/>
<text transform="translate(1253.50,486.70) scale(1,1.04)" text-anchor="middle" font-size="27.5" fill="#4D4D4D">AI</text>
<text transform="translate(754.10,252.80) rotate(-90)" text-anchor="middle" font-size="33.6" fill="#000">Semantic distance</text>
<text transform="translate(824.50,32.30)" text-anchor="start" font-size="40.4" fill="#000">Max scores</text>
<text transform="translate(725.00,34.60)" text-anchor="start" font-size="44.5" fill="#000" font-weight="bold">B</text>
<line x1="247.00" x2="247.00" y1="677.00" y2="803.00" stroke="#2b2b2b" stroke-width="2.8"/>
<line x1="247.00" x2="247.00" y1="891.00" y2="997.50" stroke="#2b2b2b" stroke-width="2.8"/>
<rect x="142.75" y="803.00" width="208.50" height="88.00" fill="#F8766D" stroke="#2b2b2b" stroke-width="2.8"/>
<line x1="142.75" x2="351.25" y1="847.50" y2="847.50" stroke="#2b2b2b" stroke-width="5.6"/>
<line x1="525.00" x2="525.00" y1="677.00" y2="771.00" stroke="#2b2b2b" stroke-width="2.8"/>
<line x1="525.00" x2="525.00" y1="838.50" y2="924.00" stroke="#2b2b2b" stroke-width="2.8"/>
<rect x="420.75" y="771.00" width="208.50" height="67.50" fill="#00BFC4" stroke="#2b2b2b" stroke-width="2.8"/>
<line x1="420.75" x2="629.25" y1="804.50" y2="804.50" stroke="#2b2b2b" stroke-width="5.6"/>
<path d="M208.9 642.7h0M191.3 659.1h0M206.0 659.1h0M273.7 659.1h0M323.7 659.1h0M251.8 667.8h0M326.7 667.8h0M234.0 676.4h0M335.6 676.4h0M295.9 685.6h0M206.0 692.8h0M183.9 701.7h0M247.1 704.2h0M153.1 710.4h0M197.2 710.4h0M224.6 710.4h0M229.7 710.4h0M234.8 710.4h0M248.6 710.4h0M342.8 710.4h0M160.7 718.9h0M165.4 718.9h0M181.1 718.9h0M316.7 718.9h0M176.7 726.8h0M204.2 726.8h0M210.8 726.8h0M248.6 726.8h0M272.2 726.8h0M279.8 726.8h0M309.1 726.8h0M328.0 726.8h0M346.0 726.8h0M353.5 726.8h0M142.7 732.5h0M145.5 737.2h0M167.3 735.0h0M172.0 735.0h0M250.5 733.5h0M348.8 735.4h0M303.4 733.5h0M307.2 736.3h0M310.1 740.1h0M279.8 740.1h0M282.6 743.9h0M169.2 744.2h0M177.7 744.2h0M182.4 744.2h0M188.1 744.2h0M196.6 744.2h0M202.3 744.2h0M231.0 744.2h0M245.2 744.2h0M302.5 744.2h0M306.3 744.2h0M312.9 744.2h0M155.9 753.3h0M195.6 753.3h0M216.4 753.3h0M234.4 750.5h0M237.2 752.4h0M241.0 753.3h0M259.6 753.3h0M309.1 753.3h0M311.9 755.8h0M322.3 750.5h0M336.5 755.8h0M344.1 755.8h0M148.4 760.5h0M151.2 760.5h0M176.7 760.5h0M186.2 760.5h0M190.0 760.5h0M225.9 760.5h0M231.6 760.5h0M237.2 760.5h0M248.6 760.5h0M276.0 760.5h0M285.5 760.5h0M292.5 760.5h0M322.3 760.5h0M329.5 760.5h0M345.0 759.0h0M349.8 760.5h0M158.8 765.2h0M153.1 769.4h0M241.0 766.6h0M317.6 766.6h0M339.4 766.6h0M356.4 766.6h0M194.1 769.4h0M211.7 769.4h0M263.7 771.3h0M272.2 769.4h0M279.8 771.3h0M285.5 769.4h0M300.6 769.4h0M304.4 769.4h0M314.8 770.3h0M343.1 769.4h0M139.9 777.9h0M179.6 777.9h0M197.5 777.9h0M228.7 777.9h0M241.0 777.9h0M250.5 777.9h0M255.2 777.9h0M264.7 777.9h0M282.6 777.9h0M302.5 777.9h0M316.7 775.1h0M317.6 778.9h0M335.6 780.7h0M346.0 777.9h0M350.7 777.9h0M138.5 913.7h0M148.8 913.7h0M164.7 913.7h0M167.6 916.1h0M184.5 913.7h0M189.5 913.7h0M195.4 913.7h0M207.3 908.8h0M219.2 913.7h0M234.1 913.7h0M239.1 912.1h0M259.9 908.8h0M261.9 913.7h0M271.8 917.1h0M275.8 919.1h0M283.8 913.7h0M299.6 916.1h0M308.6 913.7h0M314.5 918.1h0M324.4 908.8h0M326.4 912.1h0M342.3 913.7h0M346.3 908.8h0M350.3 913.7h0M357.2 913.7h0M143.8 921.1h0M146.8 924.1h0M183.5 919.1h0M185.5 923.1h0M194.4 921.1h0M204.4 919.1h0M208.3 923.1h0M211.3 926.0h0M213.3 930.0h0M217.3 921.1h0M226.2 924.1h0M237.1 924.1h0M242.1 924.1h0M256.0 924.1h0M284.7 923.1h0M356.2 920.1h0M357.2 924.1h0M157.7 930.0h0M162.7 930.0h0M150.8 936.0h0M173.6 936.0h0M207.3 927.0h0M271.8 930.0h0M276.8 930.0h0M330.4 930.0h0M334.4 927.0h0M350.3 933.0h0M138.9 938.3h0M206.3 936.0h0M222.2 937.0h0M233.1 941.3h0M241.1 936.0h0M292.7 936.0h0M299.6 937.0h0M303.6 936.0h0M316.5 941.3h0M343.3 938.3h0M352.2 941.3h0M138.9 947.5h0M146.8 947.5h0M160.7 942.5h0M194.4 942.9h0M194.4 947.9h0M201.4 942.9h0M201.4 946.9h0M212.3 947.9h0M260.9 942.5h0M261.9 947.9h0M266.9 947.9h0M272.8 942.9h0M279.8 947.9h0M285.7 941.3h0M296.7 946.9h0M298.6 950.9h0M313.5 947.5h0M316.5 945.9h0M328.4 947.5h0M333.4 947.5h0M345.3 947.5h0M162.7 953.8h0M166.6 956.8h0M169.6 950.9h0M173.6 948.9h0M177.6 947.3h0M194.4 952.8h0M209.3 956.8h0M213.3 952.8h0M217.3 950.9h0M241.1 947.9h0M243.1 952.8h0M251.0 952.8h0M314.5 957.8h0M318.5 958.8h0M356.2 957.8h0M185.5 963.8h0M223.2 963.8h0M234.1 967.7h0M250.0 963.8h0M264.9 963.8h0M277.8 963.8h0M291.7 963.8h0M309.6 963.8h0M316.5 961.8h0M318.5 963.8h0M149.8 972.3h0M216.3 972.3h0M230.2 972.3h0M272.8 972.3h0M281.8 972.3h0M285.7 972.3h0M298.6 972.3h0M320.5 975.1h0M136.9 981.0h0M140.8 981.0h0M189.5 981.0h0M221.2 981.0h0M228.2 981.0h0M282.8 981.0h0M201.4 985.6h0M204.4 985.6h0M227.2 988.6h0M258.9 988.6h0M316.5 988.6h0M321.5 988.6h0M166.6 997.5h0M228.2 997.5h0M238.1 997.5h0M241.1 997.5h0M245.4 997.5h0M291.7 997.5h0M299.6 997.5h0M311.5 997.5h0M320.5 997.5h0M322.5 997.5h0M357.6 997.5h0M297.9 890.3h0M315.7 857.3h0M342.2 837.2h0M184.3 839.7h0M324.2 822.1h0M320.3 904.4h0M350.5 788.4h0M247.6 788.3h0M177.0 862.3h0M174.1 823.2h0M338.9 786.6h0M154.5 810.4h0M260.0 880.5h0M333.9 841.5h0M146.2 861.0h0M287.2 799.5h0M180.7 833.3h0M156.0 790.8h0M302.5 823.3h0M248.3 853.1h0M182.7 872.3h0M157.6 874.6h0M280.9 838.6h0M261.9 841.5h0M345.1 799.5h0M195.0 837.9h0M350.2 874.7h0M291.3 826.1h0M284.3 837.9h0M300.0 861.0h0M277.6 821.2h0M339.3 827.6h0M252.0 863.9h0M230.6 872.3h0M273.5 798.0h0M267.4 882.8h0M144.9 795.6h0M201.9 820.8h0M345.1 784.7h0M259.1 790.4h0M225.6 784.6h0M286.4 898.5h0M315.7 888.2h0M356.4 902.6h0M303.6 889.2h0M255.8 861.5h0M329.6 873.9h0M295.5 784.7h0M151.0 817.5h0M167.6 794.7h0M233.4 869.5h0M349.5 859.9h0M183.1 866.8h0M336.1 771.8h0M237.1 846.1h0M268.6 801.0h0M138.9 806.9h0M347.8 857.1h0M219.9 798.3h0M241.1 826.2h0M309.4 846.2h0M339.3 839.1h0M325.7 852.8h0M284.3 874.7h0M266.0 824.1h0M179.0 839.6h0M339.8 883.0h0M244.4 801.4h0M230.7 905.1h0M252.6 850.1h0M341.2 824.0h0M307.9 862.0h0M334.3 802.6h0M157.0 824.4h0M336.1 825.8h0M254.4 871.2h0M308.9 854.0h0M279.9 808.6h0M297.0 895.9h0M149.1 803.7h0M280.1 889.7h0M165.5 845.6h0M176.1 786.7h0M186.2 783.9h0M294.5 838.0h0M284.7 820.3h0M199.7 846.8h0M151.5 902.8h0M159.8 829.2h0M294.4 854.1h0M220.1 815.9h0M139.2 849.0h0M193.4 852.4h0M258.6 855.4h0M330.0 795.1h0M304.1 807.0h0M247.1 874.2h0M316.5 893.8h0M267.7 828.0h0M160.9 882.6h0M253.9 818.2h0M265.0 850.0h0M260.4 824.4h0M179.9 888.0h0M315.2 880.2h0M233.1 794.6h0M169.2 822.1h0M191.6 828.9h0M316.7 803.7h0M308.1 842.9h0M256.6 886.7h0M162.6 813.1h0M148.4 786.3h0M177.8 816.7h0M235.5 830.6h0M303.5 871.1h0M318.6 812.1h0M264.7 835.6h0M221.5 778.5h0M222.2 878.0h0M264.2 858.9h0M301.4 837.6h0M351.1 826.0h0M351.5 825.5h0M275.1 810.5h0M230.1 887.3h0M214.4 808.7h0M182.6 907.5h0M330.5 778.0h0M328.2 806.2h0M301.2 867.0h0M182.1 820.1h0M228.1 893.1h0M140.2 890.9h0M267.3 779.7h0M147.0 794.3h0M233.0 812.2h0M308.7 781.4h0M267.4 889.7h0M191.8 887.6h0M214.0 872.1h0M215.0 864.1h0M302.6 850.2h0M323.6 845.0h0M200.9 788.1h0M280.3 800.6h0M188.2 777.4h0M276.7 861.1h0M192.2 896.1h0M144.2 883.7h0M205.1 841.3h0M224.5 903.1h0M168.7 906.6h0M145.8 870.9h0M354.3 830.3h0M147.6 885.5h0M299.1 793.9h0M158.3 844.3h0M242.2 881.1h0M261.1 837.1h0M350.8 900.3h0M202.8 886.8h0M347.7 867.0h0M243.5 887.5h0M185.5 881.1h0M262.2 870.5h0M198.1 842.2h0M140.5 797.7h0M148.2 856.5h0M354.6 887.2h0M146.8 847.1h0M275.8 860.2h0M289.1 833.6h0M213.3 830.2h0M272.5 844.6h0M158.7 792.1h0M300.4 853.7h0M240.4 877.2h0M306.5 802.7h0M305.9 784.1h0M214.0 838.0h0M333.8 822.9h0M200.5 871.9h0M345.3 823.0h0M148.6 875.8h0M259.5 884.5h0M239.5 823.5h0M192.8 795.2h0M145.9 894.5h0M317.5 822.4h0M240.7 798.3h0M277.3 865.9h0M264.5 898.4h0M205.8 836.4h0M322.9 868.5h0M150.3 897.5h0M204.4 828.9h0M292.2 820.0h0M329.5 821.7h0M284.6 833.1h0M283.7 815.3h0M164.3 882.4h0M340.9 857.3h0M142.3 834.8h0M259.1 868.0h0M285.4 892.3h0M260.4 808.2h0M144.0 896.3h0M181.5 821.7h0M157.3 841.4h0M311.8 866.8h0M203.5 832.6h0M351.8 872.7h0M218.0 809.0h0M342.4 889.0h0M223.4 854.3h0M344.3 902.7h0M141.6 906.8h0M316.8 842.9h0M253.6 867.0h0M161.6 856.5h0M179.9 787.6h0M240.3 831.7h0M345.4 873.6h0M184.9 826.1h0M295.3 904.9h0M353.5 840.1h0M264.6 783.6h0M301.9 858.4h0M222.6 895.6h0M158.9 893.2h0M249.1 867.9h0M194.9 845.9h0M235.2 834.4h0M262.5 789.3h0M274.4 864.1h0M311.8 888.1h0M307.6 835.3h0M194.2 812.5h0M162.0 904.4h0M356.8 816.6h0M203.4 848.3h0M314.8 794.3h0M210.9 808.3h0M347.7 837.1h0M234.5 823.7h0M229.7 836.2h0M178.3 896.1h0M226.2 874.6h0M170.4 779.4h0M290.2 859.4h0M355.3 895.1h0M213.7 794.8h0M350.1 807.3h0M177.9 836.6h0M150.9 797.7h0M137.4 896.4h0M160.2 817.8h0M275.3 881.2h0M227.2 782.3h0M151.8 826.2h0M160.7 837.9h0M193.1 904.8h0M171.8 775.7h0M190.8 877.3h0M217.5 878.1h0M191.1 788.0h0M155.0 801.8h0M254.6 904.4h0M190.2 871.7h0M341.1 814.5h0M282.7 788.1h0M187.9 866.8h0M321.5 852.9h0M235.2 805.1h0M357.0 794.3h0M186.6 876.4h0M303.3 874.8h0M282.3 864.2h0M318.4 847.2h0M191.9 871.7h0M263.2 862.8h0M174.5 833.4h0M173.1 799.8h0M284.4 842.1h0M248.7 779.3h0M269.4 789.1h0M168.8 818.8h0M289.0 862.9h0M254.8 785.7h0M239.9 850.8h0M261.1 904.8h0M315.2 902.3h0M334.1 830.3h0M168.1 809.6h0M203.8 843.6h0M199.0 795.8h0M306.5 900.8h0M306.7 787.9h0M291.9 820.3h0M292.0 867.7h0M331.5 809.7h0M181.2 881.3h0M139.8 810.2h0M204.2 872.3h0M167.4 779.7h0M206.5 885.2h0M334.9 812.7h0M161.4 901.8h0M299.7 813.2h0M276.2 846.7h0M238.9 832.9h0M311.8 809.2h0M286.8 878.7h0M184.2 773.8h0M345.8 813.1h0M309.8 850.6h0M260.4 784.1h0M188.8 902.7h0M271.3 885.3h0M265.2 854.2h0M226.2 794.2h0M156.7 837.3h0M327.8 883.4h0M258.2 899.7h0M314.8 860.6h0M344.6 849.2h0M196.5 818.2h0M148.5 798.3h0M147.8 866.2h0M237.3 908.3h0M199.8 772.0h0M205.1 822.0h0M187.6 818.5h0M175.4 890.5h0M247.8 886.7h0M165.0 833.3h0M244.9 903.9h0M291.2 844.2h0M232.6 790.5h0M175.6 851.2h0M351.6 848.8h0M197.8 867.7h0M335.4 853.1h0M180.6 801.7h0M301.2 907.2h0M349.7 851.0h0M302.2 883.9h0M353.5 837.1h0M283.6 860.5h0M188.7 896.9h0M325.4 794.2h0M213.0 859.6h0M156.6 899.6h0M169.4 845.7h0M275.1 765.8h0M212.8 819.7h0M163.3 805.8h0M157.5 868.3h0M341.0 875.0h0M312.1 861.4h0M278.2 799.9h0M206.6 878.5h0M330.5 796.3h0M211.2 843.9h0M151.5 861.6h0M306.5 810.4h0M169.7 870.1h0M196.0 821.3h0M291.8 783.0h0M185.6 855.3h0M270.6 841.2h0M250.3 842.7h0M139.1 867.0h0M263.1 817.7h0M339.9 815.5h0M325.3 831.5h0M138.6 820.4h0M254.3 878.2h0M242.2 906.8h0M300.5 856.1h0M312.6 880.9h0M218.1 851.5h0M183.0 781.4h0M187.9 893.1h0M282.6 890.4h0M167.7 826.5h0M171.8 861.7h0M307.8 891.8h0M283.1 867.7h0M338.9 864.2h0M207.9 874.1h0M255.8 782.0h0M255.9 813.9h0M251.5 898.2h0M143.7 888.1h0M234.8 902.8h0M288.1 818.6h0M269.1 780.4h0M265.8 832.3h0M145.1 828.9h0M221.5 854.2h0M322.3 773.8h0M351.8 819.2h0M198.7 840.0h0M302.1 901.1h0M329.8 904.1h0M244.8 880.9h0M242.5 875.4h0M318.4 877.4h0M343.5 831.2h0M215.1 901.1h0M325.3 894.8h0M154.7 855.4h0M166.9 844.0h0M293.7 884.6h0M175.0 872.5h0M350.8 803.9h0M225.7 807.0h0M216.5 884.7h0M334.4 904.2h0M311.5 780.5h0M326.1 808.9h0M146.2 852.4h0M194.2 859.9h0M221.0 858.6h0M139.1 874.2h0M200.8 825.9h0M290.1 812.8h0M277.2 793.3h0M259.4 868.9h0M296.9 837.2h0M249.5 783.8h0M270.2 869.4h0M314.5 858.6h0M154.5 780.1h0M157.5 808.5h0M143.7 854.9h0M199.0 865.0h0M225.4 811.6h0M252.5 891.8h0M216.0 906.7h0M152.4 861.1h0M247.2 819.4h0M222.2 900.5h0M240.2 803.2h0M238.7 774.1h0M260.1 795.0h0M215.7 792.2h0M243.9 869.7h0M348.3 808.7h0M165.0 905.9h0M263.6 805.0h0M137.8 885.5h0M146.7 777.2h0M277.4 774.1h0M241.8 792.8h0M214.8 892.8h0M320.2 873.2h0M165.7 894.0h0M252.2 856.2h0M288.8 787.1h0M325.9 795.1h0M344.9 803.2h0M330.4 808.8h0M182.9 893.3h0M239.5 900.5h0M145.2 821.6h0M168.4 797.9h0M159.6 867.6h0M282.7 882.5h0M332.0 817.6h0M138.9 870.9h0M268.5 805.2h0M239.9 856.9h0M291.7 849.7h0M221.0 812.3h0M309.6 806.5h0M322.9 862.7h0M218.3 801.3h0M157.0 850.6h0M266.4 819.3h0M185.1 896.9h0M348.5 799.8h0M176.2 803.4h0M221.0 866.2h0M177.6 791.0h0M231.2 876.7h0M192.2 856.0h0M161.5 871.9h0M145.0 790.4h0M150.8 839.8h0M352.8 878.4h0M306.1 869.0h0M197.9 803.5h0M271.6 813.6h0M157.3 877.1h0M292.5 873.1h0M158.9 803.6h0M213.2 837.6h0M352.0 891.6h0M183.1 793.6h0M254.9 856.3h0M229.0 816.2h0M258.7 864.7h0M176.9 776.1h0M294.8 824.4h0M212.8 775.7h0M278.3 833.6h0M293.6 798.1h0M288.7 841.8h0M235.1 865.9h0M220.4 825.6h0M210.8 799.4h0M137.9 781.4h0M179.8 792.9h0M325.4 828.1h0M171.4 890.7h0M274.3 865.3h0M174.2 887.0h0M179.5 851.1h0M337.4 834.6h0M327.4 766.3h0M293.7 831.3h0M348.7 892.2h0M311.5 816.8h0M296.8 863.7h0M154.4 890.6h0M201.7 876.3h0M214.7 862.0h0M274.1 819.0h0M210.0 785.8h0M201.6 884.2h0M194.8 901.0h0M275.1 835.5h0M141.9 782.6h0M186.8 792.0h0M158.0 805.5h0M148.6 847.4h0M164.8 888.0h0M169.5 785.8h0M260.3 876.4h0M243.8 901.8h0M353.7 774.1h0M320.5 849.6h0M190.6 768.3h0M162.9 787.7h0M223.2 841.8h0M138.8 835.6h0M288.6 858.5h0M320.6 803.9h0M356.7 848.8h0M217.6 828.7h0M281.5 813.3h0M280.6 855.7h0M330.5 829.9h0M315.5 805.0h0M154.0 811.6h0M339.5 909.0h0M343.5 869.2h0M221.7 774.1h0M323.5 791.6h0M248.4 771.3h0M152.7 818.7h0M148.0 831.6h0M337.3 795.6h0M233.2 844.8h0M201.3 836.6h0M205.2 859.6h0M354.0 796.8h0M226.4 859.1h0M257.5 822.0h0M169.2 876.8h0M350.6 831.9h0M161.0 774.8h0M348.4 897.5h0M283.5 823.6h0M282.4 816.0h0M204.9 865.8h0M279.9 896.6h0M197.8 886.3h0M147.3 848.7h0M237.0 822.6h0M173.4 819.5h0M144.9 810.4h0M190.9 764.4h0M229.5 856.8h0M157.0 905.6h0M161.3 892.5h0M327.1 866.0h0M326.1 784.3h0M307.5 788.3h0M179.8 877.9h0M140.9 786.7h0M182.3 828.4h0M295.6 883.1h0M167.4 867.4h0M320.5 779.7h0M323.0 814.9h0M353.7 844.6h0M143.8 874.1h0M140.9 854.5h0M206.5 808.8h0M168.5 863.6h0M328.8 863.1h0M317.6 820.2h0M140.0 808.2h0M225.3 872.3h0M185.2 860.1h0M342.9 778.8h0M260.6 904.8h0M335.9 888.3h0M276.5 805.5h0M333.2 864.5h0M233.9 853.1h0M327.7 877.5h0M325.3 840.4h0M158.7 862.1h0M169.1 853.0h0M333.5 789.5h0M175.3 792.9h0M196.8 807.5h0M136.9 827.6h0M286.7 781.3h0M155.0 878.9h0M151.6 883.0h0M335.5 868.6h0M179.3 858.6h0M218.3 881.5h0M153.2 859.1h0M139.5 830.2h0M242.2 820.6h0M185.9 885.0h0M218.9 778.5h0M287.8 903.6h0M160.5 783.4h0M295.6 803.4h0M220.1 844.1h0M190.6 849.4h0M205.7 803.2h0M172.0 904.7h0M211.3 883.6h0M151.3 792.5h0M342.3 897.7h0M166.3 764.9h0M155.9 892.1h0M267.3 857.5h0M157.2 827.2h0M249.4 865.2h0M289.1 885.1h0M353.5 906.4h0M180.0 826.9h0M142.0 793.8h0M284.8 792.2h0M183.2 845.7h0M292.8 807.9h0M172.7 809.3h0M261.7 889.5h0M196.8 861.9h0M287.7 891.2h0M219.0 863.2h0M196.1 807.3h0M228.6 848.8h0M356.3 866.8h0M222.3 906.2h0M252.1 865.8h0M201.3 908.8h0M170.5 898.1h0M297.2 824.6h0M222.7 861.7h0M146.4 841.4h0M163.2 809.4h0M190.0 882.3h0M338.7 799.1h0M227.3 791.8h0M143.5 835.5h0M201.8 836.9h0M289.8 843.6h0M255.3 852.2h0M144.3 818.1h0M294.3 791.1h0M344.2 861.7h0M278.5 831.3h0M296.3 874.0h0M230.5 829.6h0M157.6 831.9h0M294.0 794.8h0M305.6 825.3h0M301.5 791.0h0M184.7 815.5h0M276.5 827.2h0M335.6 801.0h0M175.0 903.2h0M304.7 831.3h0M331.7 878.9h0M266.1 868.5h0M146.2 782.7h0M296.2 805.9h0M265.0 786.9h0M318.3 788.6h0M172.6 809.2h0M144.5 904.8h0M317.4 800.4h0M195.2 782.1h0M283.7 805.1h0M284.1 793.7h0M242.0 875.8h0M152.7 894.7h0M180.5 786.0h0M196.4 865.5h0M228.3 806.0h0M206.5 893.9h0M195.6 784.8h0M327.1 893.3h0M291.5 889.8h0M330.9 835.4h0M325.8 834.5h0M214.9 907.5h0M140.9 880.9h0M301.8 810.4h0M302.5 798.9h0M295.7 850.5h0M227.9 898.4h0M139.9 798.6h0M327.2 858.0h0M320.3 784.1h0M288.3 804.6h0M345.0 793.7h0M200.4 878.2h0M157.2 777.9h0M178.2 849.1h0M339.2 845.3h0M234.6 873.0h0M148.3 829.2h0M317.9 884.0h0M168.1 850.9h0M236.7 791.5h0M339.5 780.8h0M333.9 891.5h0M173.6 893.6h0M177.1 820.7h0M261.0 820.4h0M529.9 676.9h0M596.0 676.5h0M492.6 688.2h0M428.2 692.6h0M604.7 692.6h0M625.0 692.6h0M420.8 701.4h0M518.1 703.1h0M547.4 701.4h0M437.2 719.2h0M562.1 719.2h0M585.5 716.2h0M604.7 723.8h0M631.3 726.5h0M426.5 726.5h0M547.4 731.1h0M547.4 732.8h0M456.4 735.3h0M485.5 735.3h0M420.8 738.4h0M438.1 739.1h0M441.4 744.2h0M503.0 744.2h0M520.8 744.2h0M548.7 744.2h0M491.4 753.1h0M428.2 756.2h0M549.1 752.8h0M544.3 756.5h0M622.3 760.4h0M435.5 768.9h0M460.6 768.9h0M619.4 770.9h0M494.3 773.5h0M507.5 772.1h0M454.7 778.1h0M482.5 778.1h0M528.2 778.1h0M547.4 778.1h0M553.3 778.1h0M579.6 778.1h0M591.4 784.0h0M423.6 783.6h0M428.2 783.6h0M430.4 787.0h0M433.0 789.6h0M434.2 794.7h0M483.8 786.7h0M487.2 788.7h0M466.4 791.3h0M416.5 794.3h0M444.3 794.3h0M450.4 794.3h0M450.4 800.3h0M547.4 794.3h0M555.8 794.3h0M557.5 798.9h0M550.4 800.3h0M597.4 794.3h0M603.3 794.3h0M588.6 798.1h0M587.2 803.1h0M605.0 803.1h0M609.2 807.4h0M420.8 803.1h0M476.5 803.1h0M538.4 804.5h0M572.3 806.0h0M578.2 806.0h0M603.3 811.9h0M491.4 811.9h0M507.5 816.2h0M526.7 815.0h0M526.7 818.4h0M539.7 817.9h0M536.9 820.9h0M466.4 818.1h0M440.1 822.3h0M498.7 822.3h0M428.2 828.6h0M481.3 828.6h0M509.2 831.1h0M547.4 828.6h0M558.9 828.6h0M594.3 825.2h0M617.7 828.6h0M627.0 825.2h0M435.5 833.6h0M435.5 837.0h0M493.1 832.8h0M499.1 834.0h0M489.7 837.4h0M538.4 837.0h0M579.6 835.3h0M632.1 832.8h0M633.8 836.2h0M636.4 837.0h0M423.6 846.0h0M451.9 846.0h0M534.2 846.0h0M613.8 846.0h0M438.4 854.8h0M550.3 851.6h0M554.2 855.3h0M550.8 856.7h0M555.0 857.9h0M484.2 856.2h0M475.0 862.1h0M492.8 862.1h0M539.7 862.1h0M468.1 873.6h0M476.7 874.0h0M494.3 874.0h0M469.4 879.9h0M484.2 879.9h0M466.4 885.5h0M518.1 885.5h0M507.5 891.4h0M569.4 875.3h0M570.8 884.2h0M613.5 879.9h0M629.6 882.8h0M546.0 896.0h0M472.3 901.9h0M585.5 904.8h0M619.4 904.8h0M486.9 913.8h0M541.4 921.1h0M519.4 924.0h0" stroke="#000" stroke-width="5.84" stroke-linecap="round" fill="none"/>
<line x1="81.50" x2="81.50" y1="625.00" y2="1016.55" stroke="#000" stroke-width="2.9"/>
<line x1="80.05" x2="693.00" y1="1015.10" y2="1015.10" stroke="#000" stroke-width="2.9"/>
<line x1="72.60" x2="81.50" y1="692.40" y2="692.40" stroke="#2e2e2e" stroke-width="2.9"/>
<text transform="translate(64.70,705.20) scale(1,1.05)" text-anchor="end" font-size="27.5" fill="#4D4D4D">4</text>
<line x1="72.60" x2="81.50" y1="794.10" y2="794.10" stroke="#2e2e2e" stroke-width="2.9"/>
<text transform="translate(64.70,806.90) scale(1,1.05)" text-anchor="end" font-size="27.5" fill="#4D4D4D">3</text>
<line x1="72.60" x2="81.50" y1="895.80" y2="895.80" stroke="#2e2e2e" stroke-width="2.9"/>
<text transform="translate(64.70,908.60) scale(1,1.05)" text-anchor="end" font-size="27.5" fill="#4D4D4D">2</text>
<line x1="72.60" x2="81.50" y1="997.50" y2="997.50" stroke="#2e2e2e" stroke-width="2.9"/>
<text transform="translate(64.70,1010.30) scale(1,1.05)" text-anchor="end" font-size="27.5" fill="#4D4D4D">1</text>
<line x1="247.00" x2="247.00" y1="1015.10" y2="1023.80" stroke="#2e2e2e" stroke-width="2.9"/>
<text transform="translate(247.00,1054.70) scale(1,1.04)" text-anchor="middle" font-size="27.5" fill="#4D4D4D">Human</text>
<line x1="525.00" x2="525.00" y1="1015.10" y2="1023.80" stroke="#2e2e2e" stroke-width="2.9"/>
<text transform="translate(525.00,1054.70) scale(1,1.04)" text-anchor="middle" font-size="27.5" fill="#4D4D4D">AI</text>
<text transform="translate(33.10,819.50) rotate(-90)" text-anchor="middle" font-size="33.6" fill="#000">Subjective score</text>
<text transform="translate(81.60,599.50)" text-anchor="start" font-size="40.4" fill="#000">Mean scores</text>
<text transform="translate(6.50,602.00)" text-anchor="start" font-size="44.5" fill="#000" font-weight="bold">C</text>
<line x1="968.00" x2="968.00" y1="643.00" y2="734.50" stroke="#2b2b2b" stroke-width="2.8"/>
<line x1="968.00" x2="968.00" y1="843.00" y2="997.50" stroke="#2b2b2b" stroke-width="2.8"/>
<rect x="863.75" y="734.50" width="208.50" height="108.50" fill="#F8766D" stroke="#2b2b2b" stroke-width="2.8"/>
<line x1="863.75" x2="1072.25" y1="789.50" y2="789.50" stroke="#2b2b2b" stroke-width="5.6"/>
<line x1="1246.00" x2="1246.00" y1="643.00" y2="704.50" stroke="#2b2b2b" stroke-width="2.8"/>
<line x1="1246.00" x2="1246.00" y1="797.50" y2="889.50" stroke="#2b2b2b" stroke-width="2.8"/>
<rect x="1141.75" y="704.50" width="208.50" height="93.00" fill="#00BFC4" stroke="#2b2b2b" stroke-width="2.8"/>
<line x1="1141.75" x2="1350.25" y1="749.50" y2="749.50" stroke="#2b2b2b" stroke-width="5.6"/>
<path d="M895.8 643.1h0M973.9 643.1h0M1057.1 643.1h0M882.5 657.7h0M893.5 657.7h0M896.7 657.7h0M915.1 657.7h0M942.7 657.7h0M951.6 657.7h0M965.2 657.7h0M977.1 657.7h0M1012.1 657.7h0M1019.3 657.7h0M1054.6 657.7h0M1073.5 657.7h0M1077.3 657.7h0M863.6 674.0h0M876.9 674.0h0M883.1 674.0h0M896.7 674.0h0M903.4 674.0h0M922.6 674.0h0M929.3 674.0h0M943.1 674.0h0M970.5 674.0h0M975.8 674.0h0M985.6 674.0h0M997.0 674.0h0M1000.7 674.0h0M1019.7 674.0h0M1025.0 674.0h0M1031.0 674.0h0M1038.6 674.0h0M1051.8 674.0h0M1068.8 674.0h0M865.0 688.7h0M876.9 688.7h0M885.0 688.7h0M888.8 688.7h0M900.1 688.7h0M904.7 688.7h0M909.1 688.7h0M913.8 688.7h0M921.3 688.7h0M940.2 688.7h0M948.7 688.7h0M954.5 688.7h0M960.1 688.7h0M965.8 688.7h0M1000.4 688.7h0M1013.6 688.7h0M1019.7 688.7h0M1024.4 688.7h0M1035.7 688.7h0M1049.0 688.7h0M1057.5 688.7h0M1064.1 688.7h0M867.0 704.9h0M871.2 704.9h0M898.6 704.9h0M903.6 704.9h0M907.8 704.9h0M912.6 704.9h0M918.5 704.9h0M922.6 704.9h0M927.5 704.9h0M932.7 704.9h0M948.4 704.9h0M954.8 704.9h0M960.1 704.9h0M965.8 704.9h0M977.7 704.9h0M993.2 704.9h0M1006.4 704.9h0M1011.3 704.9h0M1016.7 704.9h0M1021.3 704.9h0M1026.4 704.9h0M1030.8 704.9h0M1036.4 704.9h0M1041.6 704.9h0M1046.1 704.9h0M1064.1 704.9h0M1068.8 704.9h0M1073.8 704.9h0M1078.3 704.9h0M858.5 719.6h0M863.7 719.6h0M868.4 719.6h0M876.9 719.6h0M881.1 719.6h0M886.6 719.6h0M891.2 719.6h0M895.5 719.6h0M900.0 719.6h0M905.2 719.6h0M914.1 719.6h0M932.7 719.6h0M941.2 719.6h0M947.8 719.6h0M958.2 719.6h0M963.1 719.6h0M967.1 719.6h0M971.8 719.6h0M976.5 719.6h0M980.7 719.6h0M985.4 719.6h0M989.4 719.6h0M996.0 719.6h0M1004.5 719.6h0M1012.1 719.6h0M1016.6 719.6h0M1021.8 719.6h0M1026.0 719.6h0M1031.3 719.6h0M1035.8 719.6h0M1039.6 719.6h0M1044.3 719.6h0M1049.0 719.6h0M1054.6 719.6h0M1058.6 719.6h0M1063.5 719.6h0M1067.8 719.6h0M1072.7 719.6h0M1077.3 719.6h0M856.1 874.3h0M861.0 874.3h0M866.0 874.3h0M871.2 874.3h0M876.9 874.3h0M881.1 874.3h0M885.2 874.3h0M889.2 874.3h0M901.8 874.3h0M919.4 874.3h0M923.7 874.3h0M927.0 874.3h0M949.7 874.3h0M954.9 874.3h0M960.3 874.3h0M964.8 874.3h0M978.6 874.3h0M984.7 874.3h0M991.9 874.3h0M1004.5 874.3h0M1009.5 874.3h0M1014.2 874.3h0M1018.3 874.3h0M1022.3 874.3h0M1027.2 874.3h0M1041.4 874.3h0M1048.0 874.3h0M1053.2 874.3h0M1057.5 874.3h0M1065.0 874.3h0M1070.6 874.3h0M1075.6 874.3h0M1080.2 874.3h0M860.4 890.5h0M864.9 890.5h0M869.5 890.5h0M873.4 890.5h0M878.5 890.5h0M882.5 890.5h0M890.1 890.5h0M895.8 890.5h0M905.8 890.5h0M913.8 890.5h0M917.5 890.5h0M925.5 890.5h0M936.4 890.5h0M940.8 890.5h0M945.0 890.5h0M982.8 890.5h0M992.2 890.5h0M997.2 890.5h0M1002.6 890.5h0M1009.3 890.5h0M1012.5 890.5h0M1016.8 890.5h0M1027.2 890.5h0M1038.6 890.5h0M1043.7 890.5h0M1048.0 890.5h0M1057.5 890.5h0M1060.3 890.5h0M1067.9 890.5h0M1077.0 890.5h0M865.2 905.2h0M899.6 905.2h0M926.0 905.2h0M930.8 905.2h0M959.7 905.2h0M979.9 905.2h0M985.2 905.2h0M998.9 905.2h0M1016.8 905.2h0M1036.7 905.2h0M1041.8 905.2h0M1045.3 905.2h0M1050.6 905.2h0M1054.7 905.2h0M1059.4 905.2h0M1074.1 905.2h0M882.5 921.5h0M885.9 921.5h0M890.1 921.5h0M910.5 921.5h0M923.2 921.5h0M935.5 921.5h0M950.6 921.5h0M985.2 921.5h0M1013.6 921.5h0M1017.1 921.5h0M1021.2 921.5h0M1059.4 921.5h0M1064.1 921.5h0M1077.0 921.5h0M891.4 936.1h0M925.5 936.1h0M940.2 936.1h0M945.9 936.1h0M960.1 936.1h0M964.8 936.1h0M975.4 936.1h0M1051.8 936.1h0M860.4 952.4h0M874.0 952.4h0M893.0 952.4h0M911.9 952.4h0M922.3 952.4h0M927.0 952.4h0M940.2 952.4h0M944.1 952.4h0M947.4 952.4h0M973.3 952.4h0M979.0 952.4h0M983.7 952.4h0M1037.0 952.4h0M1057.5 952.4h0M1062.8 952.4h0M1075.4 952.4h0M862.3 967.1h0M866.1 967.1h0M897.3 967.1h0M921.3 967.1h0M924.4 967.1h0M928.5 967.1h0M960.7 967.1h0M988.4 967.1h0M862.7 983.3h0M868.5 983.3h0M874.0 983.3h0M890.1 983.3h0M967.1 983.3h0M979.9 983.3h0M983.2 983.3h0M987.5 983.3h0M1001.7 983.3h0M1050.5 983.3h0M858.9 998.0h0M891.4 998.0h0M913.4 998.0h0M925.5 998.0h0M936.1 998.0h0M940.6 998.0h0M954.4 998.0h0M959.1 998.0h0M969.5 998.0h0M975.8 998.0h0M995.6 998.0h0M1031.0 998.0h0M1056.1 998.0h0M856.9 735.9h0M862.4 735.9h0M867.5 735.9h0M873.1 735.9h0M888.7 735.9h0M893.7 735.9h0M898.5 735.9h0M903.4 735.9h0M907.8 735.9h0M912.8 735.9h0M916.4 735.9h0M921.7 735.9h0M923.5 735.9h0M927.5 735.9h0M932.0 735.9h0M935.5 735.9h0M938.2 735.9h0M943.2 735.9h0M948.2 735.9h0M952.0 735.9h0M957.2 735.9h0M961.7 735.9h0M966.7 735.9h0M975.0 735.9h0M980.0 735.9h0M985.0 735.9h0M989.3 735.9h0M994.5 735.9h0M999.8 735.9h0M1006.2 735.9h0M1011.1 735.9h0M1017.1 735.9h0M1021.8 735.9h0M1025.5 735.9h0M1030.2 735.9h0M1033.9 735.9h0M1039.0 735.9h0M1042.7 735.9h0M1047.5 735.9h0M1051.2 735.9h0M1056.2 735.9h0M1060.5 735.9h0M1065.9 735.9h0M1075.0 735.9h0M857.4 750.5h0M865.7 750.5h0M869.2 750.5h0M874.0 750.5h0M885.9 750.5h0M893.3 750.5h0M898.1 750.5h0M901.7 750.5h0M906.1 750.5h0M911.5 750.5h0M915.3 750.5h0M926.3 750.5h0M931.2 750.5h0M934.9 750.5h0M940.2 750.5h0M944.1 750.5h0M948.7 750.5h0M952.9 750.5h0M955.7 750.5h0M959.4 750.5h0M964.5 750.5h0M970.4 750.5h0M975.9 750.5h0M981.3 750.5h0M985.9 750.5h0M990.6 750.5h0M997.0 750.5h0M1003.4 750.5h0M1013.5 750.5h0M1019.1 750.5h0M1023.6 750.5h0M1027.3 750.5h0M1032.1 750.5h0M1035.6 750.5h0M1040.1 750.5h0M1045.7 750.5h0M1050.5 750.5h0M1055.4 750.5h0M1060.4 750.5h0M1065.9 750.5h0M1071.7 750.5h0M856.5 766.8h0M861.0 766.8h0M866.3 766.8h0M871.6 766.8h0M875.9 766.8h0M881.7 766.8h0M886.2 766.8h0M891.4 766.8h0M896.0 766.8h0M904.3 766.8h0M908.6 766.8h0M913.8 766.8h0M918.0 766.8h0M928.1 766.8h0M933.0 766.8h0M937.7 766.8h0M942.8 766.8h0M945.6 766.8h0M950.0 766.8h0M954.7 766.8h0M958.4 766.8h0M963.9 766.8h0M967.2 766.8h0M972.2 766.8h0M981.4 766.8h0M994.2 766.8h0M1000.7 766.8h0M1008.9 766.8h0M1020.9 766.8h0M1025.8 766.8h0M1030.5 766.8h0M1034.6 766.8h0M1052.1 766.8h0M1056.6 766.8h0M1062.5 766.8h0M1067.1 766.8h0M1072.4 766.8h0M1076.7 766.8h0M1082.4 766.8h0M862.0 781.5h0M865.2 781.5h0M869.4 781.5h0M874.0 781.5h0M879.5 781.5h0M884.1 781.5h0M887.8 781.5h0M892.9 781.5h0M896.1 781.5h0M900.6 781.5h0M907.9 781.5h0M912.9 781.5h0M917.7 781.5h0M922.4 781.5h0M926.3 781.5h0M931.0 781.5h0M935.8 781.5h0M940.8 781.5h0M944.6 781.5h0M950.0 781.5h0M954.7 781.5h0M959.5 781.5h0M963.1 781.5h0M968.9 781.5h0M972.5 781.5h0M977.4 781.5h0M982.4 781.5h0M986.9 781.5h0M996.1 781.5h0M1001.2 781.5h0M1005.1 781.5h0M1010.4 781.5h0M1014.5 781.5h0M1018.8 781.5h0M1023.4 781.5h0M1027.8 781.5h0M1032.3 781.5h0M1037.4 781.5h0M1041.1 781.5h0M1045.7 781.5h0M1051.2 781.5h0M1059.4 781.5h0M1064.5 781.5h0M1069.7 781.5h0M1073.5 781.5h0M1078.7 781.5h0M859.3 797.7h0M864.8 797.7h0M871.2 797.7h0M875.6 797.7h0M881.6 797.7h0M885.9 797.7h0M890.7 797.7h0M895.4 797.7h0M900.6 797.7h0M904.3 797.7h0M908.8 797.7h0M913.6 797.7h0M917.6 797.7h0M922.0 797.7h0M926.0 797.7h0M931.5 797.7h0M935.5 797.7h0M940.1 797.7h0M944.4 797.7h0M949.9 797.7h0M954.8 797.7h0M959.4 797.7h0M964.2 797.7h0M967.8 797.7h0M973.0 797.7h0M977.7 797.7h0M981.8 797.7h0M986.5 797.7h0M990.6 797.7h0M996.1 797.7h0M1002.5 797.7h0M1012.6 797.7h0M1019.9 797.7h0M1024.3 797.7h0M1029.5 797.7h0M1033.9 797.7h0M1039.6 797.7h0M1043.7 797.7h0M1048.7 797.7h0M1054.2 797.7h0M1058.8 797.7h0M1063.7 797.7h0M1067.9 797.7h0M1072.8 797.7h0M1077.9 797.7h0M1082.4 797.7h0M858.4 812.4h0M863.0 812.4h0M867.5 812.4h0M872.3 812.4h0M876.6 812.4h0M881.6 812.4h0M887.0 812.4h0M891.6 812.4h0M895.9 812.4h0M900.4 812.4h0M904.9 812.4h0M909.8 812.4h0M918.0 812.4h0M922.6 812.4h0M927.9 812.4h0M933.5 812.4h0M938.7 812.4h0M943.1 812.4h0M948.3 812.4h0M960.3 812.4h0M965.6 812.4h0M970.5 812.4h0M975.4 812.4h0M980.3 812.4h0M985.1 812.4h0M990.6 812.4h0M997.9 812.4h0M1002.9 812.4h0M1007.2 812.4h0M1012.3 812.4h0M1016.5 812.4h0M1021.4 812.4h0M1026.5 812.4h0M1031.1 812.4h0M1035.3 812.4h0M1040.8 812.4h0M1045.1 812.4h0M1049.8 812.4h0M1053.8 812.4h0M1059.1 812.4h0M1063.5 812.4h0M1068.7 812.4h0M1073.2 812.4h0M1078.3 812.4h0M860.2 828.7h0M865.0 828.7h0M870.2 828.7h0M874.8 828.7h0M879.5 828.7h0M891.4 828.7h0M896.4 828.7h0M900.4 828.7h0M905.2 828.7h0M910.7 828.7h0M915.5 828.7h0M920.2 828.7h0M924.9 828.7h0M928.9 828.7h0M934.1 828.7h0M938.7 828.7h0M943.1 828.7h0M948.0 828.7h0M952.6 828.7h0M956.6 828.7h0M961.2 828.7h0M965.4 828.7h0M970.8 828.7h0M975.5 828.7h0M979.5 828.7h0M984.4 828.7h0M988.7 828.7h0M997.9 828.7h0M1002.2 828.7h0M1006.1 828.7h0M1009.8 828.7h0M1015.4 828.7h0M1019.4 828.7h0M1024.6 828.7h0M1028.9 828.7h0M1033.5 828.7h0M1037.6 828.7h0M1042.4 828.7h0M1047.0 828.7h0M1051.2 828.7h0M1057.6 828.7h0M1061.4 828.7h0M1064.9 828.7h0M1074.1 828.7h0M856.5 843.3h0M861.5 843.3h0M865.3 843.3h0M870.2 843.3h0M875.2 843.3h0M880.1 843.3h0M884.3 843.3h0M889.6 843.3h0M894.2 843.3h0M898.2 843.3h0M903.4 843.3h0M907.8 843.3h0M912.2 843.3h0M917.0 843.3h0M921.9 843.3h0M926.5 843.3h0M931.2 843.3h0M935.7 843.3h0M940.9 843.3h0M945.4 843.3h0M950.4 843.3h0M955.1 843.3h0M959.3 843.3h0M964.8 843.3h0M968.4 843.3h0M973.6 843.3h0M978.1 843.3h0M983.0 843.3h0M987.3 843.3h0M992.9 843.3h0M997.0 843.3h0M1001.3 843.3h0M1006.7 843.3h0M1010.7 843.3h0M1015.9 843.3h0M1020.4 843.3h0M1025.4 843.3h0M1030.5 843.3h0M1034.6 843.3h0M1045.7 843.3h0M1050.6 843.3h0M1054.7 843.3h0M1059.8 843.3h0M1064.2 843.3h0M1068.5 843.3h0M1072.8 843.3h0M1077.8 843.3h0M858.4 859.6h0M863.7 859.6h0M868.8 859.6h0M874.0 859.6h0M878.6 859.6h0M885.0 859.6h0M891.4 859.6h0M896.7 859.6h0M901.5 859.6h0M905.9 859.6h0M910.3 859.6h0M915.3 859.6h0M923.5 859.6h0M927.7 859.6h0M930.9 859.6h0M941.5 859.6h0M952.9 859.6h0M957.2 859.6h0M962.2 859.6h0M967.6 859.6h0M972.5 859.6h0M976.8 859.6h0M982.2 859.6h0M986.9 859.6h0M993.3 859.6h0M997.5 859.6h0M1000.7 859.6h0M1004.3 859.6h0M1009.1 859.6h0M1014.1 859.6h0M1019.0 859.6h0M1025.5 859.6h0M1029.7 859.6h0M1034.4 859.6h0M1039.8 859.6h0M1043.7 859.6h0M1048.4 859.6h0M1054.8 859.6h0M1074.1 859.6h0M988.4 758.0h0M997.0 775.4h0M954.8 867.7h0M1235.7 642.7h0M1287.4 642.7h0M1291.9 642.7h0M1330.1 642.7h0M1165.2 657.5h0M1194.5 657.5h0M1197.5 657.5h0M1269.4 657.5h0M1277.0 657.5h0M1284.3 657.5h0M1293.1 657.5h0M1302.1 657.5h0M1318.2 657.5h0M1347.5 657.5h0M1156.4 673.7h0M1159.4 673.7h0M1178.4 673.7h0M1197.5 673.7h0M1260.6 673.7h0M1356.4 673.7h0M1137.2 688.5h0M1177.0 688.5h0M1231.3 688.5h0M1353.5 688.5h0M1184.3 704.6h0M1197.5 704.6h0M1209.2 704.6h0M1224.2 704.6h0M1237.2 704.6h0M1355.0 704.6h0M1162.3 719.0h0M1206.4 719.0h0M1225.5 719.0h0M1237.2 719.0h0M1247.5 719.0h0M1259.4 719.0h0M1303.3 719.0h0M1317.7 719.0h0M1319.9 719.0h0M1185.7 735.6h0M1205.0 735.6h0M1228.4 735.6h0M1279.7 735.6h0M1307.7 735.6h0M1333.0 735.6h0M1341.6 735.6h0M1346.2 735.6h0M1353.0 735.6h0M1358.4 735.6h0M1150.4 750.3h0M1153.5 750.3h0M1158.1 750.3h0M1165.2 750.3h0M1190.3 750.3h0M1204.3 750.3h0M1207.2 750.3h0M1217.9 750.3h0M1227.0 750.3h0M1241.6 750.3h0M1249.1 750.3h0M1274.2 750.3h0M1306.4 750.3h0M1337.2 750.3h0M1147.9 766.1h0M1184.3 766.1h0M1228.4 766.1h0M1254.7 766.1h0M1265.2 766.1h0M1269.9 766.1h0M1293.1 766.1h0M1302.1 766.1h0M1316.5 766.1h0M1338.9 766.1h0M1353.5 766.1h0M1151.8 781.2h0M1153.8 781.2h0M1207.7 781.2h0M1268.2 781.2h0M1341.9 781.2h0M1136.9 797.3h0M1141.6 797.3h0M1148.7 797.3h0M1153.5 797.3h0M1169.4 797.3h0M1196.2 797.3h0M1228.4 797.3h0M1234.3 797.3h0M1241.9 797.3h0M1244.5 797.3h0M1281.3 797.3h0M1306.4 797.3h0M1309.2 797.3h0M1336.0 797.3h0M1355.5 797.3h0M1358.6 797.3h0M1147.4 812.0h0M1149.6 812.0h0M1181.4 812.0h0M1205.0 812.0h0M1222.5 812.0h0M1230.1 812.0h0M1262.3 812.0h0M1287.4 812.0h0M1290.3 812.0h0M1315.2 812.0h0M1332.6 812.0h0M1336.0 812.0h0M1340.3 812.0h0M1171.1 828.3h0M1306.4 831.2h0M1136.0 843.1h0M1207.7 843.1h0M1255.0 843.1h0M1314.0 843.1h0M1193.1 859.2h0M1268.2 859.2h0M1311.9 859.2h0M1318.2 859.2h0M1324.7 859.2h0M1160.9 873.9h0M1260.9 873.9h0M1300.8 873.9h0M1202.1 890.2h0M1277.0 890.2h0" stroke="#000" stroke-width="5.84" stroke-linecap="round" fill="none"/>
<line x1="802.00" x2="802.00" y1="625.00" y2="1016.55" stroke="#000" stroke-width="2.9"/>
<line x1="800.55" x2="1414.00" y1="1015.10" y2="1015.10" stroke="#000" stroke-width="2.9"/>
<line x1="793.10" x2="802.00" y1="626.50" y2="626.50" stroke="#2e2e2e" stroke-width="2.9"/>
<text transform="translate(785.20,639.30) scale(1,1.05)" text-anchor="end" font-size="27.5" fill="#4D4D4D">5</text>
<line x1="793.10" x2="802.00" y1="719.25" y2="719.25" stroke="#2e2e2e" stroke-width="2.9"/>
<text transform="translate(785.20,732.05) scale(1,1.05)" text-anchor="end" font-size="27.5" fill="#4D4D4D">4</text>
<line x1="793.10" x2="802.00" y1="812.00" y2="812.00" stroke="#2e2e2e" stroke-width="2.9"/>
<text transform="translate(785.20,824.80) scale(1,1.05)" text-anchor="end" font-size="27.5" fill="#4D4D4D">3</text>
<line x1="793.10" x2="802.00" y1="904.75" y2="904.75" stroke="#2e2e2e" stroke-width="2.9"/>
<text transform="translate(785.20,917.55) scale(1,1.05)" text-anchor="end" font-size="27.5" fill="#4D4D4D">2</text>
<line x1="793.10" x2="802.00" y1="997.50" y2="997.50" stroke="#2e2e2e" stroke-width="2.9"/>
<text transform="translate(785.20,1010.30) scale(1,1.05)" text-anchor="end" font-size="27.5" fill="#4D4D4D">1</text>
<line x1="968.00" x2="968.00" y1="1015.10" y2="1023.80" stroke="#2e2e2e" stroke-width="2.9"/>
<text transform="translate(968.00,1054.70) scale(1,1.04)" text-anchor="middle" font-size="27.5" fill="#4D4D4D">Human</text>
<line x1="1246.00" x2="1246.00" y1="1015.10" y2="1023.80" stroke="#2e2e2e" stroke-width="2.9"/>
<text transform="translate(1246.00,1054.70) scale(1,1.04)" text-anchor="middle" font-size="27.5" fill="#4D4D4D">AI</text>
<text transform="translate(754.10,819.50) rotate(-90)" text-anchor="middle" font-size="33.6" fill="#000">Subjective score</text>
<text transform="translate(802.20,599.50)" text-anchor="start" font-size="40.4" fill="#000">Max scores</text>
<text transform="translate(727.20,603.30)" text-anchor="start" font-size="44.5" fill="#000" font-weight="bold">D</text>
</svg></body></html>
